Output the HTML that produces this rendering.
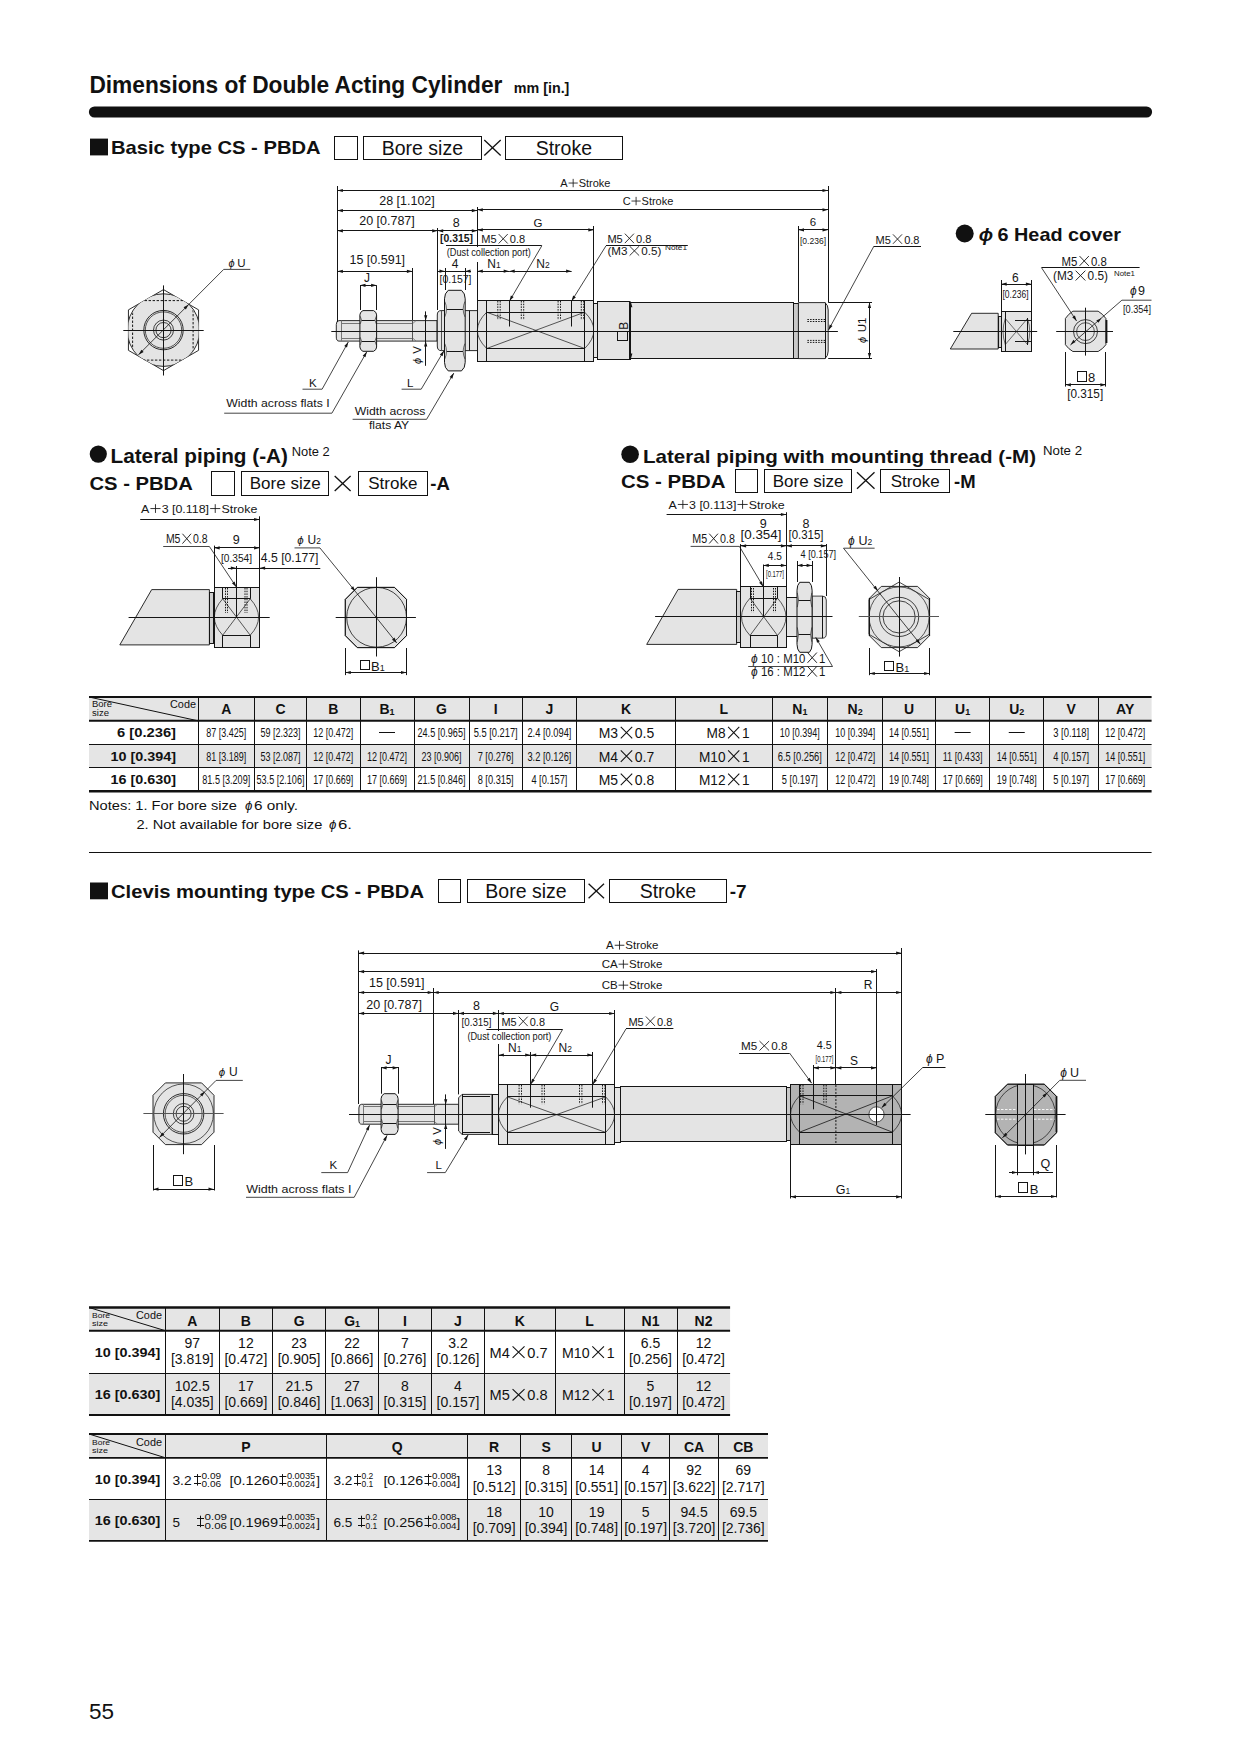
<!DOCTYPE html>
<html><head><meta charset="utf-8"><title>Dimensions of Double Acting Cylinder</title>
<style>
html,body{margin:0;padding:0;background:#fff;}
body{width:1240px;height:1754px;overflow:hidden;position:relative;font-family:"Liberation Sans",sans-serif;}
svg{position:absolute;left:0;top:0;}
svg text{font-family:"Liberation Sans",sans-serif;}
</style></head><body>
<svg width="1240" height="1754" viewBox="0 0 1240 1754">
<text x="89.4" y="92.8" font-size="24" font-weight="bold" textLength="413.00" lengthAdjust="spacingAndGlyphs" fill="#111111">Dimensions of Double Acting Cylinder</text>
<text x="513.7" y="92.6" font-size="14" font-weight="bold" textLength="55.70" lengthAdjust="spacingAndGlyphs" fill="#111111">mm [in.]</text>
<path d="M94.5,112 L1146.5,112" fill="none" stroke="#111111" stroke-width="11.2" stroke-linecap="round"/>
<rect x="90" y="138.6" width="18" height="16.8" fill="#111111" stroke="none" stroke-width="1"/>
<text x="111" y="154.3" font-size="19" font-weight="bold" textLength="209.60" lengthAdjust="spacingAndGlyphs" fill="#111111">Basic type CS - PBDA</text>
<rect x="334.5" y="136.5" width="23.0" height="23.0" fill="none" stroke="#111111" stroke-width="1"/>
<rect x="363.5" y="136.5" width="118.0" height="23.0" fill="none" stroke="#111111" stroke-width="1"/>
<text x="422.35" y="154.6" font-size="19.5" text-anchor="middle" fill="#111111">Bore size</text>
<line x1="484.3" y1="140.01000000000002" x2="500.7" y2="155.59" stroke="#111111" stroke-width="1.3"/>
<line x1="484.3" y1="155.59" x2="500.7" y2="140.01000000000002" stroke="#111111" stroke-width="1.3"/>
<rect x="505.5" y="136.5" width="117.0" height="23.0" fill="none" stroke="#111111" stroke-width="1"/>
<text x="563.85" y="154.6" font-size="19.5" text-anchor="middle" fill="#111111">Stroke</text>
<rect x="90" y="882.5" width="18" height="16.8" fill="#111111" stroke="none" stroke-width="1"/>
<text x="111" y="898.2" font-size="19" font-weight="bold" textLength="313.00" lengthAdjust="spacingAndGlyphs" fill="#111111">Clevis mounting type CS - PBDA</text>
<rect x="438.5" y="879.5" width="22.0" height="23.0" fill="none" stroke="#111111" stroke-width="1"/>
<rect x="467.5" y="879.5" width="117.0" height="23.0" fill="none" stroke="#111111" stroke-width="1"/>
<text x="525.95" y="897.6" font-size="19.5" text-anchor="middle" fill="#111111">Bore size</text>
<line x1="588.5999999999999" y1="883.6850000000001" x2="604.0" y2="898.3149999999999" stroke="#111111" stroke-width="1.3"/>
<line x1="588.5999999999999" y1="898.3149999999999" x2="604.0" y2="883.6850000000001" stroke="#111111" stroke-width="1.3"/>
<rect x="609.5" y="879.5" width="117.0" height="23.0" fill="none" stroke="#111111" stroke-width="1"/>
<text x="667.85" y="897.6" font-size="19.5" text-anchor="middle" fill="#111111">Stroke</text>
<text x="729.8" y="897.8" font-size="19" font-weight="bold" fill="#111111">-7</text>
<circle cx="98.3" cy="454.1" r="8.6" fill="#111111"/>
<text x="110.5" y="462.5" font-size="19.5" font-weight="bold" textLength="177.50" lengthAdjust="spacingAndGlyphs" fill="#111111">Lateral piping (-A)</text>
<text x="291.8" y="455.8" font-size="12" textLength="38.00" lengthAdjust="spacingAndGlyphs" fill="#111111">Note 2</text>
<text x="89.5" y="489.5" font-size="18.5" font-weight="bold" textLength="103.30" lengthAdjust="spacingAndGlyphs" fill="#111111">CS - PBDA</text>
<rect x="211.5" y="471.5" width="23.0" height="24.0" fill="none" stroke="#111111" stroke-width="1"/>
<rect x="241.5" y="471.5" width="87.0" height="24.0" fill="none" stroke="#111111" stroke-width="1"/>
<text x="285.2" y="488.8" font-size="17" text-anchor="middle" fill="#111111">Bore size</text>
<line x1="334.69999999999993" y1="475.9475" x2="350.6" y2="491.0525" stroke="#111111" stroke-width="1.3"/>
<line x1="334.69999999999993" y1="491.0525" x2="350.6" y2="475.9475" stroke="#111111" stroke-width="1.3"/>
<rect x="358.5" y="471.5" width="69.0" height="24.0" fill="none" stroke="#111111" stroke-width="1"/>
<text x="392.79999999999995" y="488.8" font-size="17" text-anchor="middle" fill="#111111">Stroke</text>
<text x="430.3" y="489.5" font-size="18.5" font-weight="bold" fill="#111111">-A</text>
<circle cx="630.1" cy="454.3" r="8.8" fill="#111111"/>
<text x="643" y="462.5" font-size="19" font-weight="bold" textLength="393.00" lengthAdjust="spacingAndGlyphs" fill="#111111">Lateral piping with mounting thread (-M)</text>
<text x="1043" y="455.3" font-size="12" textLength="39.00" lengthAdjust="spacingAndGlyphs" fill="#111111">Note 2</text>
<text x="621" y="487.5" font-size="18.5" font-weight="bold" textLength="104.50" lengthAdjust="spacingAndGlyphs" fill="#111111">CS - PBDA</text>
<rect x="735.5" y="469.5" width="22.0" height="23.0" fill="none" stroke="#111111" stroke-width="1"/>
<rect x="764.5" y="469.5" width="87.0" height="23.0" fill="none" stroke="#111111" stroke-width="1"/>
<text x="808.1500000000001" y="486.5" font-size="17" text-anchor="middle" fill="#111111">Bore size</text>
<line x1="857.0" y1="472.1875" x2="874.5" y2="488.8125" stroke="#111111" stroke-width="1.3"/>
<line x1="857.0" y1="488.8125" x2="874.5" y2="472.1875" stroke="#111111" stroke-width="1.3"/>
<rect x="880.5" y="469.5" width="69.0" height="23.0" fill="none" stroke="#111111" stroke-width="1"/>
<text x="915.2" y="486.5" font-size="17" text-anchor="middle" fill="#111111">Stroke</text>
<text x="954" y="487.5" font-size="18.5" font-weight="bold" fill="#111111">-M</text>
<circle cx="964.7" cy="233.5" r="9" fill="#111111"/>
<text x="978.7" y="240.8" font-size="19" font-weight="bold" fill="#111111" font-style="italic">ϕ</text>
<text x="997.5" y="240.6" font-size="19" font-weight="bold" textLength="123.50" lengthAdjust="spacingAndGlyphs" fill="#111111">6 Head cover</text>
<rect x="89" y="697" width="1062.6" height="23.799999999999955" fill="#e5e5e5" stroke="none" stroke-width="1"/>
<rect x="89" y="744.2" width="1062.6" height="23.299999999999955" fill="#e5e5e5" stroke="none" stroke-width="1"/>
<line x1="198.5" y1="697" x2="198.5" y2="791.3" stroke="#111111" stroke-width="1"/>
<line x1="254.5" y1="697" x2="254.5" y2="791.3" stroke="#111111" stroke-width="1"/>
<line x1="306.5" y1="697" x2="306.5" y2="791.3" stroke="#111111" stroke-width="1"/>
<line x1="360.5" y1="697" x2="360.5" y2="791.3" stroke="#111111" stroke-width="1"/>
<line x1="414.5" y1="697" x2="414.5" y2="791.3" stroke="#111111" stroke-width="1"/>
<line x1="469.5" y1="697" x2="469.5" y2="791.3" stroke="#111111" stroke-width="1"/>
<line x1="522.5" y1="697" x2="522.5" y2="791.3" stroke="#111111" stroke-width="1"/>
<line x1="576.5" y1="697" x2="576.5" y2="791.3" stroke="#111111" stroke-width="1"/>
<line x1="675.5" y1="697" x2="675.5" y2="791.3" stroke="#111111" stroke-width="1"/>
<line x1="772.5" y1="697" x2="772.5" y2="791.3" stroke="#111111" stroke-width="1"/>
<line x1="827.5" y1="697" x2="827.5" y2="791.3" stroke="#111111" stroke-width="1"/>
<line x1="882.5" y1="697" x2="882.5" y2="791.3" stroke="#111111" stroke-width="1"/>
<line x1="935.5" y1="697" x2="935.5" y2="791.3" stroke="#111111" stroke-width="1"/>
<line x1="989.5" y1="697" x2="989.5" y2="791.3" stroke="#111111" stroke-width="1"/>
<line x1="1043.5" y1="697" x2="1043.5" y2="791.3" stroke="#111111" stroke-width="1"/>
<line x1="1098.5" y1="697" x2="1098.5" y2="791.3" stroke="#111111" stroke-width="1"/>
<line x1="89" y1="697" x2="1151.6" y2="697" stroke="#111111" stroke-width="2"/>
<line x1="89" y1="720.8" x2="1151.6" y2="720.8" stroke="#111111" stroke-width="2"/>
<line x1="89" y1="744.5" x2="1151.6" y2="744.5" stroke="#111111" stroke-width="1"/>
<line x1="89" y1="767.5" x2="1151.6" y2="767.5" stroke="#111111" stroke-width="1"/>
<line x1="89" y1="791.3" x2="1151.6" y2="791.3" stroke="#111111" stroke-width="2.5"/>
<line x1="89" y1="697" x2="198" y2="720.8" stroke="#111111" stroke-width="1"/>
<text x="92" y="707" font-size="8.5" textLength="20.00" lengthAdjust="spacingAndGlyphs" fill="#111111">Bore</text>
<text x="92" y="716" font-size="8.5" textLength="17.00" lengthAdjust="spacingAndGlyphs" fill="#111111">size</text>
<text x="196" y="708" font-size="11" text-anchor="end" textLength="26.00" lengthAdjust="spacingAndGlyphs" fill="#111111">Code</text>
<text x="226.25" y="714" font-size="14" font-weight="bold" text-anchor="middle" fill="#111111">A</text>
<text x="280.5" y="714" font-size="14" font-weight="bold" text-anchor="middle" fill="#111111">C</text>
<text x="333.25" y="714" font-size="14" font-weight="bold" text-anchor="middle" fill="#111111">B</text>
<text x="387.0" y="714" font-size="14" font-weight="bold" text-anchor="middle" fill="#111111">B<tspan font-size="9" dy="1">1</tspan></text>
<text x="441.5" y="714" font-size="14" font-weight="bold" text-anchor="middle" fill="#111111">G</text>
<text x="495.65" y="714" font-size="14" font-weight="bold" text-anchor="middle" fill="#111111">I</text>
<text x="549.4" y="714" font-size="14" font-weight="bold" text-anchor="middle" fill="#111111">J</text>
<text x="626.0" y="714" font-size="14" font-weight="bold" text-anchor="middle" fill="#111111">K</text>
<text x="723.75" y="714" font-size="14" font-weight="bold" text-anchor="middle" fill="#111111">L</text>
<text x="799.85" y="714" font-size="14" font-weight="bold" text-anchor="middle" fill="#111111">N<tspan font-size="9" dy="1">1</tspan></text>
<text x="855.1500000000001" y="714" font-size="14" font-weight="bold" text-anchor="middle" fill="#111111">N<tspan font-size="9" dy="1">2</tspan></text>
<text x="909.05" y="714" font-size="14" font-weight="bold" text-anchor="middle" fill="#111111">U</text>
<text x="962.65" y="714" font-size="14" font-weight="bold" text-anchor="middle" fill="#111111">U<tspan font-size="9" dy="1">1</tspan></text>
<text x="1016.75" y="714" font-size="14" font-weight="bold" text-anchor="middle" fill="#111111">U<tspan font-size="9" dy="1">2</tspan></text>
<text x="1071.2" y="714" font-size="14" font-weight="bold" text-anchor="middle" fill="#111111">V</text>
<text x="1125.15" y="714" font-size="14" font-weight="bold" text-anchor="middle" fill="#111111">AY</text>
<text x="176" y="737.3999999999999" font-size="13.5" font-weight="bold" text-anchor="end" textLength="59.00" lengthAdjust="spacingAndGlyphs" fill="#111111">6 [0.236]</text>
<text x="226.25" y="737.3999999999999" font-size="12.5" text-anchor="middle" textLength="40.00" lengthAdjust="spacingAndGlyphs" fill="#111111">87 [3.425]</text>
<text x="280.5" y="737.3999999999999" font-size="12.5" text-anchor="middle" textLength="40.00" lengthAdjust="spacingAndGlyphs" fill="#111111">59 [2.323]</text>
<text x="333.25" y="737.3999999999999" font-size="12.5" text-anchor="middle" textLength="40.00" lengthAdjust="spacingAndGlyphs" fill="#111111">12 [0.472]</text>
<line x1="379.0" y1="732.5" x2="395.0" y2="732.5" stroke="#111111" stroke-width="1"/>
<text x="441.5" y="737.3999999999999" font-size="12.5" text-anchor="middle" textLength="48.00" lengthAdjust="spacingAndGlyphs" fill="#111111">24.5 [0.965]</text>
<text x="495.65" y="737.3999999999999" font-size="12.5" text-anchor="middle" textLength="44.00" lengthAdjust="spacingAndGlyphs" fill="#111111">5.5 [0.217]</text>
<text x="549.4" y="737.3999999999999" font-size="12.5" text-anchor="middle" textLength="44.00" lengthAdjust="spacingAndGlyphs" fill="#111111">2.4 [0.094]</text>
<text x="598.75" y="738.0999999999999" font-size="14" textLength="19.37" lengthAdjust="spacingAndGlyphs" fill="#111111">M3</text>
<path d="M620.77,726.92 L632.21,738.40 M620.77,738.40 L632.21,726.92" stroke="#111111" stroke-width="1.05" fill="none"/>
<text x="634.8622673368412" y="738.0999999999999" font-size="14" textLength="19.39" lengthAdjust="spacingAndGlyphs" fill="#111111">0.5</text>
<text x="706.5" y="738.0999999999999" font-size="14" textLength="18.99" lengthAdjust="spacingAndGlyphs" fill="#111111">M8</text>
<path d="M728.09,726.92 L739.30,738.40 M728.09,738.40 L739.30,726.92" stroke="#111111" stroke-width="1.05" fill="none"/>
<text x="741.8971881365195" y="738.0999999999999" font-size="14" textLength="7.60" lengthAdjust="spacingAndGlyphs" fill="#111111">1</text>
<text x="799.85" y="737.3999999999999" font-size="12.5" text-anchor="middle" textLength="40.00" lengthAdjust="spacingAndGlyphs" fill="#111111">10 [0.394]</text>
<text x="855.1500000000001" y="737.3999999999999" font-size="12.5" text-anchor="middle" textLength="40.00" lengthAdjust="spacingAndGlyphs" fill="#111111">10 [0.394]</text>
<text x="909.05" y="737.3999999999999" font-size="12.5" text-anchor="middle" textLength="40.00" lengthAdjust="spacingAndGlyphs" fill="#111111">14 [0.551]</text>
<line x1="954.65" y1="732.5" x2="970.65" y2="732.5" stroke="#111111" stroke-width="1"/>
<line x1="1008.75" y1="732.5" x2="1024.75" y2="732.5" stroke="#111111" stroke-width="1"/>
<text x="1071.2" y="737.3999999999999" font-size="12.5" text-anchor="middle" textLength="36.00" lengthAdjust="spacingAndGlyphs" fill="#111111">3 [0.118]</text>
<text x="1125.15" y="737.3999999999999" font-size="12.5" text-anchor="middle" textLength="40.00" lengthAdjust="spacingAndGlyphs" fill="#111111">12 [0.472]</text>
<text x="176" y="760.8" font-size="13.5" font-weight="bold" text-anchor="end" textLength="65.50" lengthAdjust="spacingAndGlyphs" fill="#111111">10 [0.394]</text>
<text x="226.25" y="760.8" font-size="12.5" text-anchor="middle" textLength="40.00" lengthAdjust="spacingAndGlyphs" fill="#111111">81 [3.189]</text>
<text x="280.5" y="760.8" font-size="12.5" text-anchor="middle" textLength="40.00" lengthAdjust="spacingAndGlyphs" fill="#111111">53 [2.087]</text>
<text x="333.25" y="760.8" font-size="12.5" text-anchor="middle" textLength="40.00" lengthAdjust="spacingAndGlyphs" fill="#111111">12 [0.472]</text>
<text x="387.0" y="760.8" font-size="12.5" text-anchor="middle" textLength="40.00" lengthAdjust="spacingAndGlyphs" fill="#111111">12 [0.472]</text>
<text x="441.5" y="760.8" font-size="12.5" text-anchor="middle" textLength="40.00" lengthAdjust="spacingAndGlyphs" fill="#111111">23 [0.906]</text>
<text x="495.65" y="760.8" font-size="12.5" text-anchor="middle" textLength="36.00" lengthAdjust="spacingAndGlyphs" fill="#111111">7 [0.276]</text>
<text x="549.4" y="760.8" font-size="12.5" text-anchor="middle" textLength="44.00" lengthAdjust="spacingAndGlyphs" fill="#111111">3.2 [0.126]</text>
<text x="598.75" y="761.5" font-size="14" textLength="19.37" lengthAdjust="spacingAndGlyphs" fill="#111111">M4</text>
<path d="M620.77,750.32 L632.21,761.80 M620.77,761.80 L632.21,750.32" stroke="#111111" stroke-width="1.05" fill="none"/>
<text x="634.8622673368412" y="761.5" font-size="14" textLength="19.39" lengthAdjust="spacingAndGlyphs" fill="#111111">0.7</text>
<text x="699.0" y="761.5" font-size="14" textLength="26.54" lengthAdjust="spacingAndGlyphs" fill="#111111">M10</text>
<path d="M728.13,750.32 L739.32,761.80 M728.13,761.80 L739.32,750.32" stroke="#111111" stroke-width="1.05" fill="none"/>
<text x="741.9126350894968" y="761.5" font-size="14" textLength="7.59" lengthAdjust="spacingAndGlyphs" fill="#111111">1</text>
<text x="799.85" y="760.8" font-size="12.5" text-anchor="middle" textLength="44.00" lengthAdjust="spacingAndGlyphs" fill="#111111">6.5 [0.256]</text>
<text x="855.1500000000001" y="760.8" font-size="12.5" text-anchor="middle" textLength="40.00" lengthAdjust="spacingAndGlyphs" fill="#111111">12 [0.472]</text>
<text x="909.05" y="760.8" font-size="12.5" text-anchor="middle" textLength="40.00" lengthAdjust="spacingAndGlyphs" fill="#111111">14 [0.551]</text>
<text x="962.65" y="760.8" font-size="12.5" text-anchor="middle" textLength="40.00" lengthAdjust="spacingAndGlyphs" fill="#111111">11 [0.433]</text>
<text x="1016.75" y="760.8" font-size="12.5" text-anchor="middle" textLength="40.00" lengthAdjust="spacingAndGlyphs" fill="#111111">14 [0.551]</text>
<text x="1071.2" y="760.8" font-size="12.5" text-anchor="middle" textLength="36.00" lengthAdjust="spacingAndGlyphs" fill="#111111">4 [0.157]</text>
<text x="1125.15" y="760.8" font-size="12.5" text-anchor="middle" textLength="40.00" lengthAdjust="spacingAndGlyphs" fill="#111111">14 [0.551]</text>
<text x="176" y="784.0999999999999" font-size="13.5" font-weight="bold" text-anchor="end" textLength="65.50" lengthAdjust="spacingAndGlyphs" fill="#111111">16 [0.630]</text>
<text x="226.25" y="784.0999999999999" font-size="12.5" text-anchor="middle" textLength="48.00" lengthAdjust="spacingAndGlyphs" fill="#111111">81.5 [3.209]</text>
<text x="280.5" y="784.0999999999999" font-size="12.5" text-anchor="middle" textLength="48.00" lengthAdjust="spacingAndGlyphs" fill="#111111">53.5 [2.106]</text>
<text x="333.25" y="784.0999999999999" font-size="12.5" text-anchor="middle" textLength="40.00" lengthAdjust="spacingAndGlyphs" fill="#111111">17 [0.669]</text>
<text x="387.0" y="784.0999999999999" font-size="12.5" text-anchor="middle" textLength="40.00" lengthAdjust="spacingAndGlyphs" fill="#111111">17 [0.669]</text>
<text x="441.5" y="784.0999999999999" font-size="12.5" text-anchor="middle" textLength="48.00" lengthAdjust="spacingAndGlyphs" fill="#111111">21.5 [0.846]</text>
<text x="495.65" y="784.0999999999999" font-size="12.5" text-anchor="middle" textLength="36.00" lengthAdjust="spacingAndGlyphs" fill="#111111">8 [0.315]</text>
<text x="549.4" y="784.0999999999999" font-size="12.5" text-anchor="middle" textLength="36.00" lengthAdjust="spacingAndGlyphs" fill="#111111">4 [0.157]</text>
<text x="598.75" y="784.8" font-size="14" textLength="19.37" lengthAdjust="spacingAndGlyphs" fill="#111111">M5</text>
<path d="M620.77,773.62 L632.21,785.10 M620.77,785.10 L632.21,773.62" stroke="#111111" stroke-width="1.05" fill="none"/>
<text x="634.8622673368412" y="784.8" font-size="14" textLength="19.39" lengthAdjust="spacingAndGlyphs" fill="#111111">0.8</text>
<text x="699.0" y="784.8" font-size="14" textLength="26.54" lengthAdjust="spacingAndGlyphs" fill="#111111">M12</text>
<path d="M728.13,773.62 L739.32,785.10 M728.13,785.10 L739.32,773.62" stroke="#111111" stroke-width="1.05" fill="none"/>
<text x="741.9126350894968" y="784.8" font-size="14" textLength="7.59" lengthAdjust="spacingAndGlyphs" fill="#111111">1</text>
<text x="799.85" y="784.0999999999999" font-size="12.5" text-anchor="middle" textLength="36.00" lengthAdjust="spacingAndGlyphs" fill="#111111">5 [0.197]</text>
<text x="855.1500000000001" y="784.0999999999999" font-size="12.5" text-anchor="middle" textLength="40.00" lengthAdjust="spacingAndGlyphs" fill="#111111">12 [0.472]</text>
<text x="909.05" y="784.0999999999999" font-size="12.5" text-anchor="middle" textLength="40.00" lengthAdjust="spacingAndGlyphs" fill="#111111">19 [0.748]</text>
<text x="962.65" y="784.0999999999999" font-size="12.5" text-anchor="middle" textLength="40.00" lengthAdjust="spacingAndGlyphs" fill="#111111">17 [0.669]</text>
<text x="1016.75" y="784.0999999999999" font-size="12.5" text-anchor="middle" textLength="40.00" lengthAdjust="spacingAndGlyphs" fill="#111111">19 [0.748]</text>
<text x="1071.2" y="784.0999999999999" font-size="12.5" text-anchor="middle" textLength="36.00" lengthAdjust="spacingAndGlyphs" fill="#111111">5 [0.197]</text>
<text x="1125.15" y="784.0999999999999" font-size="12.5" text-anchor="middle" textLength="40.00" lengthAdjust="spacingAndGlyphs" fill="#111111">17 [0.669]</text>
<text x="89" y="810" font-size="13.3" textLength="148.00" lengthAdjust="spacingAndGlyphs" fill="#111111">Notes: 1. For bore size</text>
<text x="245" y="810" font-size="13.3" fill="#111111" font-style="italic">ϕ</text>
<text x="254" y="810" font-size="13.3" textLength="44.00" lengthAdjust="spacingAndGlyphs" fill="#111111">6 only.</text>
<text x="136.4" y="828.5" font-size="13.3" textLength="186.00" lengthAdjust="spacingAndGlyphs" fill="#111111">2. Not available for bore size</text>
<text x="329" y="828.5" font-size="13.3" fill="#111111" font-style="italic">ϕ</text>
<text x="338" y="828.5" font-size="13.3" textLength="14.00" lengthAdjust="spacingAndGlyphs" fill="#111111">6.</text>
<line x1="89" y1="852.5" x2="1151.6" y2="852.5" stroke="#111111" stroke-width="1"/>
<rect x="89" y="1307.5" width="641.1" height="23.200000000000045" fill="#e5e5e5" stroke="none" stroke-width="1"/>
<rect x="89" y="1373.4" width="641.1" height="41.59999999999991" fill="#e5e5e5" stroke="none" stroke-width="1"/>
<line x1="165.5" y1="1307.5" x2="165.5" y2="1415" stroke="#111111" stroke-width="1"/>
<line x1="219.5" y1="1307.5" x2="219.5" y2="1415" stroke="#111111" stroke-width="1"/>
<line x1="272.5" y1="1307.5" x2="272.5" y2="1415" stroke="#111111" stroke-width="1"/>
<line x1="325.5" y1="1307.5" x2="325.5" y2="1415" stroke="#111111" stroke-width="1"/>
<line x1="378.5" y1="1307.5" x2="378.5" y2="1415" stroke="#111111" stroke-width="1"/>
<line x1="431.5" y1="1307.5" x2="431.5" y2="1415" stroke="#111111" stroke-width="1"/>
<line x1="484.5" y1="1307.5" x2="484.5" y2="1415" stroke="#111111" stroke-width="1"/>
<line x1="555.5" y1="1307.5" x2="555.5" y2="1415" stroke="#111111" stroke-width="1"/>
<line x1="624.5" y1="1307.5" x2="624.5" y2="1415" stroke="#111111" stroke-width="1"/>
<line x1="677.5" y1="1307.5" x2="677.5" y2="1415" stroke="#111111" stroke-width="1"/>
<line x1="89" y1="1307.5" x2="730.1" y2="1307.5" stroke="#111111" stroke-width="2.5"/>
<line x1="89" y1="1330.7" x2="730.1" y2="1330.7" stroke="#111111" stroke-width="2"/>
<line x1="89" y1="1373.5" x2="730.1" y2="1373.5" stroke="#111111" stroke-width="1"/>
<line x1="89" y1="1415" x2="730.1" y2="1415" stroke="#111111" stroke-width="1.8"/>
<line x1="89" y1="1307.5" x2="165.3" y2="1330.7" stroke="#111111" stroke-width="1"/>
<text x="92" y="1318" font-size="8" textLength="18.00" lengthAdjust="spacingAndGlyphs" fill="#111111">Bore</text>
<text x="92" y="1326" font-size="8" textLength="16.00" lengthAdjust="spacingAndGlyphs" fill="#111111">size</text>
<text x="162" y="1319" font-size="11.5" text-anchor="end" textLength="26.00" lengthAdjust="spacingAndGlyphs" fill="#111111">Code</text>
<text x="192.3" y="1325.5" font-size="14" font-weight="bold" text-anchor="middle" fill="#111111">A</text>
<text x="245.9" y="1325.5" font-size="14" font-weight="bold" text-anchor="middle" fill="#111111">B</text>
<text x="299.1" y="1325.5" font-size="14" font-weight="bold" text-anchor="middle" fill="#111111">G</text>
<text x="352.1" y="1325.5" font-size="14" font-weight="bold" text-anchor="middle" fill="#111111">G<tspan font-size="9" dy="1">1</tspan></text>
<text x="405.0" y="1325.5" font-size="14" font-weight="bold" text-anchor="middle" fill="#111111">I</text>
<text x="458.0" y="1325.5" font-size="14" font-weight="bold" text-anchor="middle" fill="#111111">J</text>
<text x="519.75" y="1325.5" font-size="14" font-weight="bold" text-anchor="middle" fill="#111111">K</text>
<text x="589.5" y="1325.5" font-size="14" font-weight="bold" text-anchor="middle" fill="#111111">L</text>
<text x="650.5" y="1325.5" font-size="14" font-weight="bold" text-anchor="middle" fill="#111111">N1</text>
<text x="703.55" y="1325.5" font-size="14" font-weight="bold" text-anchor="middle" fill="#111111">N2</text>
<text x="127.5" y="1356.7" font-size="13.5" font-weight="bold" text-anchor="middle" textLength="65.50" lengthAdjust="spacingAndGlyphs" fill="#111111">10 [0.394]</text>
<text x="192.3" y="1348.0" font-size="14" text-anchor="middle" fill="#111111">97</text>
<text x="192.3" y="1364.4" font-size="14" text-anchor="middle" fill="#111111">[3.819]</text>
<text x="245.9" y="1348.0" font-size="14" text-anchor="middle" fill="#111111">12</text>
<text x="245.9" y="1364.4" font-size="14" text-anchor="middle" fill="#111111">[0.472]</text>
<text x="299.1" y="1348.0" font-size="14" text-anchor="middle" fill="#111111">23</text>
<text x="299.1" y="1364.4" font-size="14" text-anchor="middle" fill="#111111">[0.905]</text>
<text x="352.1" y="1348.0" font-size="14" text-anchor="middle" fill="#111111">22</text>
<text x="352.1" y="1364.4" font-size="14" text-anchor="middle" fill="#111111">[0.866]</text>
<text x="405.0" y="1348.0" font-size="14" text-anchor="middle" fill="#111111">7</text>
<text x="405.0" y="1364.4" font-size="14" text-anchor="middle" fill="#111111">[0.276]</text>
<text x="458.0" y="1348.0" font-size="14" text-anchor="middle" fill="#111111">3.2</text>
<text x="458.0" y="1364.4" font-size="14" text-anchor="middle" fill="#111111">[0.126]</text>
<text x="489.54999999999995" y="1357.5" font-size="14" textLength="20.25" lengthAdjust="spacingAndGlyphs" fill="#111111">M4</text>
<path d="M512.57,1346.32 L524.52,1357.80 M512.57,1357.80 L524.52,1346.32" stroke="#111111" stroke-width="1.05" fill="none"/>
<text x="527.2889460457079" y="1357.5" font-size="14" textLength="20.26" lengthAdjust="spacingAndGlyphs" fill="#111111">0.7</text>
<text x="562.05" y="1357.5" font-size="14" textLength="27.59" lengthAdjust="spacingAndGlyphs" fill="#111111">M10</text>
<path d="M592.34,1346.32 L603.97,1357.80 M592.34,1357.80 L603.97,1346.32" stroke="#111111" stroke-width="1.05" fill="none"/>
<text x="606.6621453900709" y="1357.5" font-size="14" textLength="7.89" lengthAdjust="spacingAndGlyphs" fill="#111111">1</text>
<text x="650.5" y="1348.0" font-size="14" text-anchor="middle" fill="#111111">6.5</text>
<text x="650.5" y="1364.4" font-size="14" text-anchor="middle" fill="#111111">[0.256]</text>
<text x="703.55" y="1348.0" font-size="14" text-anchor="middle" fill="#111111">12</text>
<text x="703.55" y="1364.4" font-size="14" text-anchor="middle" fill="#111111">[0.472]</text>
<text x="127.5" y="1399.4" font-size="13.5" font-weight="bold" text-anchor="middle" textLength="65.50" lengthAdjust="spacingAndGlyphs" fill="#111111">16 [0.630]</text>
<text x="192.3" y="1390.7" font-size="14" text-anchor="middle" fill="#111111">102.5</text>
<text x="192.3" y="1407.1000000000001" font-size="14" text-anchor="middle" fill="#111111">[4.035]</text>
<text x="245.9" y="1390.7" font-size="14" text-anchor="middle" fill="#111111">17</text>
<text x="245.9" y="1407.1000000000001" font-size="14" text-anchor="middle" fill="#111111">[0.669]</text>
<text x="299.1" y="1390.7" font-size="14" text-anchor="middle" fill="#111111">21.5</text>
<text x="299.1" y="1407.1000000000001" font-size="14" text-anchor="middle" fill="#111111">[0.846]</text>
<text x="352.1" y="1390.7" font-size="14" text-anchor="middle" fill="#111111">27</text>
<text x="352.1" y="1407.1000000000001" font-size="14" text-anchor="middle" fill="#111111">[1.063]</text>
<text x="405.0" y="1390.7" font-size="14" text-anchor="middle" fill="#111111">8</text>
<text x="405.0" y="1407.1000000000001" font-size="14" text-anchor="middle" fill="#111111">[0.315]</text>
<text x="458.0" y="1390.7" font-size="14" text-anchor="middle" fill="#111111">4</text>
<text x="458.0" y="1407.1000000000001" font-size="14" text-anchor="middle" fill="#111111">[0.157]</text>
<text x="489.54999999999995" y="1400.2" font-size="14" textLength="20.25" lengthAdjust="spacingAndGlyphs" fill="#111111">M5</text>
<path d="M512.57,1389.02 L524.52,1400.50 M512.57,1400.50 L524.52,1389.02" stroke="#111111" stroke-width="1.05" fill="none"/>
<text x="527.2889460457079" y="1400.2" font-size="14" textLength="20.26" lengthAdjust="spacingAndGlyphs" fill="#111111">0.8</text>
<text x="562.05" y="1400.2" font-size="14" textLength="27.59" lengthAdjust="spacingAndGlyphs" fill="#111111">M12</text>
<path d="M592.34,1389.02 L603.97,1400.50 M592.34,1400.50 L603.97,1389.02" stroke="#111111" stroke-width="1.05" fill="none"/>
<text x="606.6621453900709" y="1400.2" font-size="14" textLength="7.89" lengthAdjust="spacingAndGlyphs" fill="#111111">1</text>
<text x="650.5" y="1390.7" font-size="14" text-anchor="middle" fill="#111111">5</text>
<text x="650.5" y="1407.1000000000001" font-size="14" text-anchor="middle" fill="#111111">[0.197]</text>
<text x="703.55" y="1390.7" font-size="14" text-anchor="middle" fill="#111111">12</text>
<text x="703.55" y="1407.1000000000001" font-size="14" text-anchor="middle" fill="#111111">[0.472]</text>
<rect x="89" y="1434" width="679" height="23.799999999999955" fill="#e5e5e5" stroke="none" stroke-width="1"/>
<rect x="89" y="1499.4" width="679" height="41.399999999999864" fill="#e5e5e5" stroke="none" stroke-width="1"/>
<line x1="165.5" y1="1434" x2="165.5" y2="1540.8" stroke="#111111" stroke-width="1"/>
<line x1="326.5" y1="1434" x2="326.5" y2="1540.8" stroke="#111111" stroke-width="1"/>
<line x1="467.5" y1="1434" x2="467.5" y2="1540.8" stroke="#111111" stroke-width="1"/>
<line x1="520.5" y1="1434" x2="520.5" y2="1540.8" stroke="#111111" stroke-width="1"/>
<line x1="571.5" y1="1434" x2="571.5" y2="1540.8" stroke="#111111" stroke-width="1"/>
<line x1="621.5" y1="1434" x2="621.5" y2="1540.8" stroke="#111111" stroke-width="1"/>
<line x1="669.5" y1="1434" x2="669.5" y2="1540.8" stroke="#111111" stroke-width="1"/>
<line x1="718.5" y1="1434" x2="718.5" y2="1540.8" stroke="#111111" stroke-width="1"/>
<line x1="89" y1="1434" x2="768" y2="1434" stroke="#111111" stroke-width="2"/>
<line x1="89" y1="1457.8" x2="768" y2="1457.8" stroke="#111111" stroke-width="1.8"/>
<line x1="89" y1="1499.5" x2="768" y2="1499.5" stroke="#111111" stroke-width="1"/>
<line x1="89" y1="1540.8" x2="768" y2="1540.8" stroke="#111111" stroke-width="1.8"/>
<line x1="89" y1="1434" x2="165.5" y2="1457.8" stroke="#111111" stroke-width="1"/>
<text x="92" y="1445" font-size="8" textLength="18.00" lengthAdjust="spacingAndGlyphs" fill="#111111">Bore</text>
<text x="92" y="1453" font-size="8" textLength="16.00" lengthAdjust="spacingAndGlyphs" fill="#111111">size</text>
<text x="162" y="1446" font-size="11.5" text-anchor="end" textLength="26.00" lengthAdjust="spacingAndGlyphs" fill="#111111">Code</text>
<text x="246.0" y="1452" font-size="14" font-weight="bold" text-anchor="middle" fill="#111111">P</text>
<text x="397.1" y="1452" font-size="14" font-weight="bold" text-anchor="middle" fill="#111111">Q</text>
<text x="494.15" y="1452" font-size="14" font-weight="bold" text-anchor="middle" fill="#111111">R</text>
<text x="546.05" y="1452" font-size="14" font-weight="bold" text-anchor="middle" fill="#111111">S</text>
<text x="596.65" y="1452" font-size="14" font-weight="bold" text-anchor="middle" fill="#111111">U</text>
<text x="645.65" y="1452" font-size="14" font-weight="bold" text-anchor="middle" fill="#111111">V</text>
<text x="694.05" y="1452" font-size="14" font-weight="bold" text-anchor="middle" fill="#111111">CA</text>
<text x="743.3" y="1452" font-size="14" font-weight="bold" text-anchor="middle" fill="#111111">CB</text>
<text x="127.5" y="1483.8" font-size="13.5" font-weight="bold" text-anchor="middle" textLength="65.50" lengthAdjust="spacingAndGlyphs" fill="#111111">10 [0.394]</text>
<text x="494.15" y="1475.1" font-size="14" text-anchor="middle" fill="#111111">13</text>
<text x="494.15" y="1491.5" font-size="14" text-anchor="middle" fill="#111111">[0.512]</text>
<text x="546.05" y="1475.1" font-size="14" text-anchor="middle" fill="#111111">8</text>
<text x="546.05" y="1491.5" font-size="14" text-anchor="middle" fill="#111111">[0.315]</text>
<text x="596.65" y="1475.1" font-size="14" text-anchor="middle" fill="#111111">14</text>
<text x="596.65" y="1491.5" font-size="14" text-anchor="middle" fill="#111111">[0.551]</text>
<text x="645.65" y="1475.1" font-size="14" text-anchor="middle" fill="#111111">4</text>
<text x="645.65" y="1491.5" font-size="14" text-anchor="middle" fill="#111111">[0.157]</text>
<text x="694.05" y="1475.1" font-size="14" text-anchor="middle" fill="#111111">92</text>
<text x="694.05" y="1491.5" font-size="14" text-anchor="middle" fill="#111111">[3.622]</text>
<text x="743.3" y="1475.1" font-size="14" text-anchor="middle" fill="#111111">69</text>
<text x="743.3" y="1491.5" font-size="14" text-anchor="middle" fill="#111111">[2.717]</text>
<text x="127.5" y="1525.4" font-size="13.5" font-weight="bold" text-anchor="middle" textLength="65.50" lengthAdjust="spacingAndGlyphs" fill="#111111">16 [0.630]</text>
<text x="494.15" y="1516.7" font-size="14" text-anchor="middle" fill="#111111">18</text>
<text x="494.15" y="1533.1000000000001" font-size="14" text-anchor="middle" fill="#111111">[0.709]</text>
<text x="546.05" y="1516.7" font-size="14" text-anchor="middle" fill="#111111">10</text>
<text x="546.05" y="1533.1000000000001" font-size="14" text-anchor="middle" fill="#111111">[0.394]</text>
<text x="596.65" y="1516.7" font-size="14" text-anchor="middle" fill="#111111">19</text>
<text x="596.65" y="1533.1000000000001" font-size="14" text-anchor="middle" fill="#111111">[0.748]</text>
<text x="645.65" y="1516.7" font-size="14" text-anchor="middle" fill="#111111">5</text>
<text x="645.65" y="1533.1000000000001" font-size="14" text-anchor="middle" fill="#111111">[0.197]</text>
<text x="694.05" y="1516.7" font-size="14" text-anchor="middle" fill="#111111">94.5</text>
<text x="694.05" y="1533.1000000000001" font-size="14" text-anchor="middle" fill="#111111">[3.720]</text>
<text x="743.3" y="1516.7" font-size="14" text-anchor="middle" fill="#111111">69.5</text>
<text x="743.3" y="1533.1000000000001" font-size="14" text-anchor="middle" fill="#111111">[2.736]</text>
<text x="172.4" y="1485.1" font-size="13.5" textLength="19.20" lengthAdjust="spacingAndGlyphs" fill="#111111">3.2</text>
<line x1="197.5" y1="1474.1" x2="197.5" y2="1485.6" stroke="#111111" stroke-width="1"/>
<line x1="194" y1="1476.5" x2="201" y2="1476.5" stroke="#111111" stroke-width="1"/>
<line x1="194" y1="1483.5" x2="201" y2="1483.5" stroke="#111111" stroke-width="1"/>
<text x="201.5" y="1478.6" font-size="9" textLength="19.60" lengthAdjust="spacingAndGlyphs" fill="#111111">0.09</text>
<text x="201.5" y="1487.1" font-size="9" textLength="19.60" lengthAdjust="spacingAndGlyphs" fill="#111111">0.06</text>
<text x="229.4" y="1485.1" font-size="13.5" textLength="48.70" lengthAdjust="spacingAndGlyphs" fill="#111111">[0.1260</text>
<line x1="282.5" y1="1474.1" x2="282.5" y2="1485.6" stroke="#111111" stroke-width="1"/>
<line x1="279.4" y1="1476.5" x2="286.4" y2="1476.5" stroke="#111111" stroke-width="1"/>
<line x1="279.4" y1="1483.5" x2="286.4" y2="1483.5" stroke="#111111" stroke-width="1"/>
<text x="286.9" y="1478.6" font-size="9" textLength="28.30" lengthAdjust="spacingAndGlyphs" fill="#111111">0.0035</text>
<text x="286.9" y="1487.1" font-size="9" textLength="28.30" lengthAdjust="spacingAndGlyphs" fill="#111111">0.0024</text>
<text x="316.3" y="1485.1" font-size="13.5" fill="#111111">]</text>
<text x="333.5" y="1485.1" font-size="13.5" textLength="18.90" lengthAdjust="spacingAndGlyphs" fill="#111111">3.2</text>
<line x1="357.5" y1="1474.1" x2="357.5" y2="1485.6" stroke="#111111" stroke-width="1"/>
<line x1="354" y1="1476.5" x2="361" y2="1476.5" stroke="#111111" stroke-width="1"/>
<line x1="354" y1="1483.5" x2="361" y2="1483.5" stroke="#111111" stroke-width="1"/>
<text x="361.5" y="1478.6" font-size="9" textLength="11.80" lengthAdjust="spacingAndGlyphs" fill="#111111">0.2</text>
<text x="361.5" y="1487.1" font-size="9" textLength="11.80" lengthAdjust="spacingAndGlyphs" fill="#111111">0.1</text>
<text x="383.4" y="1485.1" font-size="13.5" textLength="39.80" lengthAdjust="spacingAndGlyphs" fill="#111111">[0.126</text>
<line x1="428.5" y1="1474.1" x2="428.5" y2="1485.6" stroke="#111111" stroke-width="1"/>
<line x1="424.5" y1="1476.5" x2="431.5" y2="1476.5" stroke="#111111" stroke-width="1"/>
<line x1="424.5" y1="1483.5" x2="431.5" y2="1483.5" stroke="#111111" stroke-width="1"/>
<text x="432.0" y="1478.6" font-size="9" textLength="24.60" lengthAdjust="spacingAndGlyphs" fill="#111111">0.008</text>
<text x="432.0" y="1487.1" font-size="9" textLength="24.60" lengthAdjust="spacingAndGlyphs" fill="#111111">0.004</text>
<text x="456.4" y="1485.1" font-size="13.5" fill="#111111">]</text>
<text x="172.4" y="1526.7" font-size="13.5" fill="#111111">5</text>
<line x1="200.5" y1="1515.7" x2="200.5" y2="1527.2" stroke="#111111" stroke-width="1"/>
<line x1="197" y1="1518.5" x2="204" y2="1518.5" stroke="#111111" stroke-width="1"/>
<line x1="197" y1="1525.5" x2="204" y2="1525.5" stroke="#111111" stroke-width="1"/>
<text x="204.5" y="1520.2" font-size="9" textLength="22.50" lengthAdjust="spacingAndGlyphs" fill="#111111">0.09</text>
<text x="204.5" y="1528.7" font-size="9" textLength="22.50" lengthAdjust="spacingAndGlyphs" fill="#111111">0.06</text>
<text x="229.4" y="1526.7" font-size="13.5" textLength="48.70" lengthAdjust="spacingAndGlyphs" fill="#111111">[0.1969</text>
<line x1="282.5" y1="1515.7" x2="282.5" y2="1527.2" stroke="#111111" stroke-width="1"/>
<line x1="279.4" y1="1518.5" x2="286.4" y2="1518.5" stroke="#111111" stroke-width="1"/>
<line x1="279.4" y1="1525.5" x2="286.4" y2="1525.5" stroke="#111111" stroke-width="1"/>
<text x="286.9" y="1520.2" font-size="9" textLength="28.30" lengthAdjust="spacingAndGlyphs" fill="#111111">0.0035</text>
<text x="286.9" y="1528.7" font-size="9" textLength="28.30" lengthAdjust="spacingAndGlyphs" fill="#111111">0.0024</text>
<text x="316.3" y="1526.7" font-size="13.5" fill="#111111">]</text>
<text x="333.5" y="1526.7" font-size="13.5" textLength="18.90" lengthAdjust="spacingAndGlyphs" fill="#111111">6.5</text>
<line x1="361.5" y1="1515.7" x2="361.5" y2="1527.2" stroke="#111111" stroke-width="1"/>
<line x1="358" y1="1518.5" x2="365" y2="1518.5" stroke="#111111" stroke-width="1"/>
<line x1="358" y1="1525.5" x2="365" y2="1525.5" stroke="#111111" stroke-width="1"/>
<text x="365.5" y="1520.2" font-size="9" textLength="11.80" lengthAdjust="spacingAndGlyphs" fill="#111111">0.2</text>
<text x="365.5" y="1528.7" font-size="9" textLength="11.80" lengthAdjust="spacingAndGlyphs" fill="#111111">0.1</text>
<text x="383.4" y="1526.7" font-size="13.5" textLength="39.80" lengthAdjust="spacingAndGlyphs" fill="#111111">[0.256</text>
<line x1="428.5" y1="1515.7" x2="428.5" y2="1527.2" stroke="#111111" stroke-width="1"/>
<line x1="424.5" y1="1518.5" x2="431.5" y2="1518.5" stroke="#111111" stroke-width="1"/>
<line x1="424.5" y1="1525.5" x2="431.5" y2="1525.5" stroke="#111111" stroke-width="1"/>
<text x="432.0" y="1520.2" font-size="9" textLength="24.60" lengthAdjust="spacingAndGlyphs" fill="#111111">0.008</text>
<text x="432.0" y="1528.7" font-size="9" textLength="24.60" lengthAdjust="spacingAndGlyphs" fill="#111111">0.004</text>
<text x="456.4" y="1526.7" font-size="13.5" fill="#111111">]</text>
<text x="89" y="1718.7" font-size="22.5" fill="#111111">55</text>
<polygon points="163.50,289.60 198.57,309.85 198.57,350.35 163.50,370.60 128.43,350.35 128.43,309.85" fill="#ffffff" stroke="#151515" stroke-width="0.9"/>
<clipPath id="hx1"><polygon points="163.50,289.60 198.57,309.85 198.57,350.35 163.50,370.60 128.43,350.35 128.43,309.85"/></clipPath>
<circle cx="163.5" cy="330.1" r="36.3" fill="#e4e4e4" stroke="#151515" stroke-width="0.9" clip-path="url(#hx1)"/>
<clipPath id="hc0"><circle cx="163.5" cy="330.1" r="35.6"/></clipPath>
<rect x="132.6" y="300.6" width="60.5" height="59.5" rx="4" fill="none" stroke="#151515" stroke-width="1" stroke-dasharray="2.4,1.6" clip-path="url(#hc0)"/>
<circle cx="163.5" cy="330.1" r="19.7" fill="#e4e4e4" stroke="#151515" stroke-width="0.9"/>
<circle cx="163.5" cy="330.1" r="18.2" fill="none" stroke="#151515" stroke-width="0.7"/>
<circle cx="163.5" cy="330.1" r="10" fill="none" stroke="#151515" stroke-width="0.8"/>
<circle cx="163.5" cy="330.1" r="7.6" fill="none" stroke="#151515" stroke-width="0.8"/>
<line x1="123.3" y1="330.5" x2="203.7" y2="330.5" stroke="#151515" stroke-width="1"/>
<line x1="163.5" y1="285.4" x2="163.5" y2="375.5" stroke="#151515" stroke-width="1"/>
<path d="M138.4,354.9 L223.7,269.4 L250.3,269.4" fill="none" stroke="#151515" stroke-width="0.8"/>
<path d="M138.60,354.70 L141.36,349.68 L143.62,351.94 Z" fill="#151515"/>
<path d="M188.60,304.60 L185.84,309.62 L183.58,307.36 Z" fill="#151515"/>
<text x="228.5" y="267.2" font-size="11" fill="#151515" font-style="italic">ϕ</text>
<text x="241.5" y="267.2" font-size="11.5" text-anchor="middle" fill="#151515">U</text>
<path d="M339,320.6 L437,320.6 L437,341.1 L339,341.1 Q336.3,341.1 336.3,337 L336.3,324.5 Q336.3,320.6 339,320.6 Z" fill="#e4e4e4" stroke="#151515" stroke-width="0.9"/>
<path d="M412.9,323.4 L416,320.6 M412.9,338.2 L416,341.1" fill="none" stroke="#666" stroke-width="0.7"/>
<line x1="341" y1="323.5" x2="412.9" y2="323.5" stroke="#777" stroke-width="1"/>
<line x1="341" y1="338.5" x2="412.9" y2="338.5" stroke="#777" stroke-width="1"/>
<line x1="341.5" y1="320.6" x2="341.5" y2="341.1" stroke="#777" stroke-width="1"/>
<line x1="412.5" y1="320.6" x2="412.5" y2="341.1" stroke="#555" stroke-width="1"/>
<path d="M362.91,310.6 L373.59,310.6 Q376.60,312.10 376.60,314.88 L376.60,347.03 Q376.60,349.80 373.59,351.3 L362.91,351.3 Q359.90,349.80 359.90,347.03 L359.90,314.88 Q359.90,312.10 362.91,310.6 Z" fill="#e4e4e4" stroke="#151515" stroke-width="1.0"/>
<line x1="361.7036" y1="320.5" x2="374.7964" y2="320.5" stroke="#151515" stroke-width="1"/>
<line x1="361.7036" y1="341.5" x2="374.7964" y2="341.5" stroke="#151515" stroke-width="1"/>
<path d="M360.20,316.25 Q362.91,320.10 360.20,323.95" fill="none" stroke="#151515" stroke-width="0.6"/>
<path d="M376.30,316.25 Q373.59,320.10 376.30,323.95" fill="none" stroke="#151515" stroke-width="0.6"/>
<path d="M360.20,337.25 Q362.91,341.10 360.20,344.95" fill="none" stroke="#151515" stroke-width="0.6"/>
<path d="M376.30,337.25 Q373.59,341.10 376.30,344.95" fill="none" stroke="#151515" stroke-width="0.6"/>
<path d="M441,310.6 L477.5,310.6 L477.5,350.6 L441,350.6 Q437.3,350.6 437.3,346 L437.3,315 Q437.3,310.6 441,310.6 Z" fill="#e4e4e4" stroke="#151515" stroke-width="0.9"/>
<line x1="441.5" y1="310.6" x2="441.5" y2="350.6" stroke="#555" stroke-width="1"/>
<line x1="469.5" y1="310.6" x2="469.5" y2="350.6" stroke="#151515" stroke-width="1"/>
<path d="M448.23,290.3 L461.47,290.3 Q465.20,293.28 465.20,298.81 L465.20,362.39 Q465.20,367.92 461.47,370.9 L448.23,370.9 Q444.50,367.92 444.50,362.39 L444.50,298.81 Q444.50,293.28 448.23,290.3 Z" fill="#e4e4e4" stroke="#151515" stroke-width="1.0"/>
<line x1="446.7356" y1="309.5" x2="462.9644" y2="309.5" stroke="#151515" stroke-width="1"/>
<line x1="446.7356" y1="351.5" x2="462.9644" y2="351.5" stroke="#151515" stroke-width="1"/>
<path d="M444.80,301.55 Q448.23,309.20 444.80,316.85" fill="none" stroke="#151515" stroke-width="0.6"/>
<path d="M464.90,301.55 Q461.47,309.20 464.90,316.85" fill="none" stroke="#151515" stroke-width="0.6"/>
<path d="M444.80,343.65 Q448.23,351.30 444.80,358.95" fill="none" stroke="#151515" stroke-width="0.6"/>
<path d="M464.90,343.65 Q461.47,351.30 464.90,358.95" fill="none" stroke="#151515" stroke-width="0.6"/>
<rect x="477.5" y="300.5" width="116.0" height="61.0" fill="#e4e4e4" stroke="#151515" stroke-width="1"/>
<line x1="486.5" y1="300.3" x2="486.5" y2="361.3" stroke="#151515" stroke-width="1"/>
<line x1="584.5" y1="300.3" x2="584.5" y2="361.3" stroke="#151515" stroke-width="1"/>
<line x1="486.7" y1="312.5" x2="584.7" y2="312.5" stroke="#151515" stroke-width="1"/>
<line x1="486.7" y1="348.5" x2="584.7" y2="348.5" stroke="#151515" stroke-width="1"/>
<path d="M486.7,312.2 Q468,330.3 486.7,348.5" fill="none" stroke="#151515" stroke-width="0.7"/>
<path d="M584.7,312.2 Q603,330.3 584.7,348.5" fill="none" stroke="#151515" stroke-width="0.7"/>
<line x1="486.7" y1="312.2" x2="584.7" y2="348.5" stroke="#151515" stroke-width="0.7"/>
<line x1="486.7" y1="348.5" x2="584.7" y2="312.2" stroke="#151515" stroke-width="0.7"/>
<line x1="497.8" y1="301" x2="497.8" y2="320" stroke="#151515" stroke-width="1.0" stroke-dasharray="1.5,1.2"/>
<line x1="500.2" y1="301" x2="500.2" y2="320" stroke="#151515" stroke-width="1.0" stroke-dasharray="1.5,1.2"/>
<line x1="521.3" y1="301" x2="521.3" y2="320" stroke="#151515" stroke-width="1.0" stroke-dasharray="1.5,1.2"/>
<line x1="523.7" y1="301" x2="523.7" y2="320" stroke="#151515" stroke-width="1.0" stroke-dasharray="1.5,1.2"/>
<line x1="558.0999999999999" y1="301" x2="558.0999999999999" y2="320" stroke="#151515" stroke-width="1.0" stroke-dasharray="1.5,1.2"/>
<line x1="560.5" y1="301" x2="560.5" y2="320" stroke="#151515" stroke-width="1.0" stroke-dasharray="1.5,1.2"/>
<line x1="581.3" y1="301" x2="581.3" y2="320" stroke="#151515" stroke-width="1.0" stroke-dasharray="1.5,1.2"/>
<line x1="583.7" y1="301" x2="583.7" y2="320" stroke="#151515" stroke-width="1.0" stroke-dasharray="1.5,1.2"/>
<line x1="509.5" y1="300.3" x2="509.5" y2="326.5" stroke="#151515" stroke-width="1"/>
<line x1="571.5" y1="300.3" x2="571.5" y2="326.5" stroke="#151515" stroke-width="1"/>
<rect x="593.5" y="303.5" width="4.0" height="54.0" fill="#e4e4e4" stroke="#151515" stroke-width="1"/>
<rect x="597.5" y="301.5" width="32.0" height="58.0" fill="#e4e4e4" stroke="#151515" stroke-width="1"/>
<rect x="629.5" y="302.5" width="164.0" height="56.0" fill="#e4e4e4" stroke="#151515" stroke-width="1"/>
<rect x="793.5" y="303.5" width="5.0" height="55.0" fill="#c8c8c8" stroke="#151515" stroke-width="1"/>
<path d="M798.4,302.6 L825,302.6 Q828.2,305 828.2,310 L828.2,351 Q828.2,356 825,358.6 L798.4,358.6 Z" fill="#e4e4e4" stroke="#151515" stroke-width="0.9"/>
<line x1="825.5" y1="302.6" x2="825.5" y2="358.6" stroke="#151515" stroke-width="1"/>
<line x1="807.4" y1="319.5" x2="825" y2="319.5" stroke="#151515" stroke-width="1.0" stroke-dasharray="1.5,1.2"/>
<line x1="807.4" y1="321.5" x2="825" y2="321.5" stroke="#151515" stroke-width="1.0" stroke-dasharray="1.5,1.2"/>
<line x1="807.4" y1="340.4" x2="825" y2="340.4" stroke="#151515" stroke-width="1.0" stroke-dasharray="1.5,1.2"/>
<line x1="807.4" y1="342.4" x2="825" y2="342.4" stroke="#151515" stroke-width="1.0" stroke-dasharray="1.5,1.2"/>
<line x1="331.3" y1="331.5" x2="837.9" y2="331.5" stroke="#151515" stroke-width="1"/>
<line x1="425.5" y1="311.4" x2="425.5" y2="365.8" stroke="#151515" stroke-width="1"/>
<path d="M425.70,320.80 L424.10,315.30 L427.30,315.30 Z" fill="#151515"/>
<path d="M425.70,341.10 L427.30,346.60 L424.10,346.60 Z" fill="#151515"/>
<text x="421" y="364" font-size="11" fill="#151515" font-style="italic" transform="rotate(-90 421 364)">ϕ</text>
<text x="421" y="350" font-size="11.5" text-anchor="middle" fill="#151515" transform="rotate(-90 421 350)">V</text>
<line x1="630.5" y1="301.5" x2="630.5" y2="360" stroke="#151515" stroke-width="1"/>
<path d="M630.80,301.80 L632.40,307.30 L629.20,307.30 Z" fill="#151515"/>
<path d="M630.80,359.10 L629.20,353.60 L632.40,353.60 Z" fill="#151515"/>
<g transform="rotate(-90 628 341)">
<rect x="628.5" y="330.5" width="9.0" height="10.0" fill="none" stroke="#151515" stroke-width="1"/>
<text x="639.2" y="341" font-size="12" fill="#151515">B</text>
</g>
<line x1="828.2" y1="302.5" x2="872" y2="302.5" stroke="#151515" stroke-width="1"/>
<line x1="828.2" y1="358.5" x2="872" y2="358.5" stroke="#151515" stroke-width="1"/>
<line x1="869.5" y1="302.6" x2="869.5" y2="358.6" stroke="#151515" stroke-width="1"/>
<path d="M869.50,302.60 L871.10,308.10 L867.90,308.10 Z" fill="#151515"/>
<path d="M869.50,358.60 L867.90,353.10 L871.10,353.10 Z" fill="#151515"/>
<text x="866" y="343" font-size="11" fill="#151515" font-style="italic" transform="rotate(-90 866 343)">ϕ</text>
<text x="866" y="325" font-size="11.5" text-anchor="middle" fill="#151515" transform="rotate(-90 866 325)">U1</text>
<line x1="337.5" y1="186" x2="337.5" y2="322" stroke="#151515" stroke-width="1"/>
<line x1="412.5" y1="268" x2="412.5" y2="320" stroke="#151515" stroke-width="1"/>
<line x1="437.5" y1="228" x2="437.5" y2="310" stroke="#151515" stroke-width="1"/>
<line x1="477.5" y1="207" x2="477.5" y2="247" stroke="#151515" stroke-width="1"/>
<line x1="477.5" y1="262" x2="477.5" y2="300" stroke="#151515" stroke-width="1"/>
<line x1="828.5" y1="186" x2="828.5" y2="302" stroke="#151515" stroke-width="1"/>
<line x1="798.5" y1="226" x2="798.5" y2="302" stroke="#151515" stroke-width="1"/>
<line x1="593.5" y1="226" x2="593.5" y2="300" stroke="#151515" stroke-width="1"/>
<line x1="337.4" y1="190.5" x2="828" y2="190.5" stroke="#151515" stroke-width="1"/>
<path d="M337.40,190.50 L342.90,188.90 L342.90,192.10 Z" fill="#151515"/>
<path d="M828.00,190.50 L822.50,192.10 L822.50,188.90 Z" fill="#151515"/>
<text x="560.336328125" y="187" font-size="11" fill="#151515">A</text>
<path d="M568.55,183.04 L577.79,183.04 M573.17,178.86 L573.17,187.22" stroke="#151515" stroke-width="0.82" fill="none"/>
<text x="578.673671875" y="187" font-size="11" fill="#151515">Stroke</text>
<line x1="337.4" y1="210.5" x2="477.3" y2="210.5" stroke="#151515" stroke-width="1"/>
<path d="M337.40,210.60 L342.90,209.00 L342.90,212.20 Z" fill="#151515"/>
<path d="M477.30,210.60 L471.80,212.20 L471.80,209.00 Z" fill="#151515"/>
<text x="407" y="205" font-size="12.5" text-anchor="middle" fill="#151515">28 [1.102]</text>
<line x1="477.3" y1="209.5" x2="828" y2="209.5" stroke="#151515" stroke-width="1"/>
<path d="M477.30,209.80 L482.80,208.20 L482.80,211.40 Z" fill="#151515"/>
<path d="M828.00,209.80 L822.50,211.40 L822.50,208.20 Z" fill="#151515"/>
<text x="622.63296875" y="205" font-size="11" fill="#151515">C</text>
<path d="M631.46,201.04 L640.70,201.04 M636.08,196.86 L636.08,205.22" stroke="#151515" stroke-width="0.82" fill="none"/>
<text x="641.57703125" y="205" font-size="11" fill="#151515">Stroke</text>
<line x1="337.4" y1="230.5" x2="437.7" y2="230.5" stroke="#151515" stroke-width="1"/>
<path d="M337.40,230.80 L342.90,229.20 L342.90,232.40 Z" fill="#151515"/>
<path d="M437.70,230.80 L432.20,232.40 L432.20,229.20 Z" fill="#151515"/>
<text x="387" y="224.8" font-size="12.5" text-anchor="middle" fill="#151515">20 [0.787]</text>
<line x1="437.7" y1="230.5" x2="477.3" y2="230.5" stroke="#151515" stroke-width="1"/>
<path d="M437.70,230.80 L443.20,229.20 L443.20,232.40 Z" fill="#151515"/>
<path d="M477.30,230.80 L471.80,232.40 L471.80,229.20 Z" fill="#151515"/>
<text x="456.3" y="227.3" font-size="12.5" text-anchor="middle" fill="#151515">8</text>
<text x="456.5" y="241.8" font-size="10" font-weight="bold" text-anchor="middle" textLength="33.00" lengthAdjust="spacingAndGlyphs" fill="#151515">[0.315]</text>
<line x1="477.3" y1="229.5" x2="593.8" y2="229.5" stroke="#151515" stroke-width="1"/>
<path d="M477.30,229.90 L482.80,228.30 L482.80,231.50 Z" fill="#151515"/>
<path d="M593.80,229.90 L588.30,231.50 L588.30,228.30 Z" fill="#151515"/>
<text x="538" y="226.9" font-size="11.5" text-anchor="middle" fill="#151515">G</text>
<line x1="798.5" y1="229.5" x2="828" y2="229.5" stroke="#151515" stroke-width="1"/>
<path d="M798.50,229.90 L804.00,228.30 L804.00,231.50 Z" fill="#151515"/>
<path d="M828.00,229.90 L822.50,231.50 L822.50,228.30 Z" fill="#151515"/>
<text x="813" y="226" font-size="11.5" text-anchor="middle" fill="#151515">6</text>
<text x="813" y="244" font-size="9.5" text-anchor="middle" textLength="26.00" lengthAdjust="spacingAndGlyphs" fill="#151515">[0.236]</text>
<line x1="337.4" y1="271.5" x2="412.4" y2="271.5" stroke="#151515" stroke-width="1"/>
<path d="M337.40,271.30 L342.90,269.70 L342.90,272.90 Z" fill="#151515"/>
<path d="M412.40,271.30 L406.90,272.90 L406.90,269.70 Z" fill="#151515"/>
<text x="377.3" y="264.4" font-size="12.5" text-anchor="middle" fill="#151515">15 [0.591]</text>
<line x1="360.5" y1="285.3" x2="360.5" y2="310" stroke="#151515" stroke-width="1"/>
<line x1="376.5" y1="285.3" x2="376.5" y2="310" stroke="#151515" stroke-width="1"/>
<line x1="360" y1="285.5" x2="376.6" y2="285.5" stroke="#151515" stroke-width="1"/>
<path d="M360.00,285.30 L365.50,283.70 L365.50,286.90 Z" fill="#151515"/>
<path d="M376.60,285.30 L371.10,286.90 L371.10,283.70 Z" fill="#151515"/>
<text x="367" y="282" font-size="12" text-anchor="middle" fill="#151515">J</text>
<line x1="445.5" y1="268" x2="445.5" y2="290" stroke="#151515" stroke-width="1"/>
<line x1="465.5" y1="268" x2="465.5" y2="290" stroke="#151515" stroke-width="1"/>
<line x1="437.7" y1="271.5" x2="471" y2="271.5" stroke="#151515" stroke-width="1"/>
<path d="M445.00,271.20 L439.50,272.80 L439.50,269.60 Z" fill="#151515"/>
<path d="M465.00,271.20 L470.50,269.60 L470.50,272.80 Z" fill="#151515"/>
<text x="455" y="267.5" font-size="12" text-anchor="middle" fill="#151515">4</text>
<text x="455.5" y="283" font-size="11" text-anchor="middle" textLength="32.00" lengthAdjust="spacingAndGlyphs" fill="#151515">[0.157]</text>
<line x1="477.3" y1="271.5" x2="509.2" y2="271.5" stroke="#151515" stroke-width="1"/>
<path d="M477.30,271.20 L482.80,269.60 L482.80,272.80 Z" fill="#151515"/>
<path d="M509.20,271.20 L503.70,272.80 L503.70,269.60 Z" fill="#151515"/>
<line x1="509.2" y1="271.5" x2="571.6" y2="271.5" stroke="#151515" stroke-width="1"/>
<path d="M509.20,271.20 L514.70,269.60 L514.70,272.80 Z" fill="#151515"/>
<path d="M571.60,271.20 L566.10,272.80 L566.10,269.60 Z" fill="#151515"/>
<text x="494" y="267.8" font-size="12" text-anchor="middle" fill="#151515">N<tspan font-size="8.5">1</tspan></text>
<text x="543" y="267.8" font-size="12" text-anchor="middle" fill="#151515">N<tspan font-size="8.5">2</tspan></text>
<text x="481.2" y="243.2" font-size="11.5" textLength="15.36" lengthAdjust="spacingAndGlyphs" fill="#151515">M5</text>
<path d="M498.66,234.07 L507.73,243.50 M498.66,243.50 L507.73,234.07" stroke="#151515" stroke-width="0.86" fill="none"/>
<text x="509.8295452760543" y="243.2" font-size="11.5" textLength="15.37" lengthAdjust="spacingAndGlyphs" fill="#151515">0.8</text>
<line x1="446" y1="245.5" x2="541.8" y2="245.5" stroke="#151515" stroke-width="1"/>
<path d="M541.8,245.8 L509.5,301.0" fill="none" stroke="#151515" stroke-width="0.8"/>
<path d="M509.50,301.00 L510.90,295.44 L513.66,297.06 Z" fill="#151515"/>
<text x="488.8" y="256.4" font-size="10" text-anchor="middle" textLength="84.00" lengthAdjust="spacingAndGlyphs" fill="#151515">(Dust collection port)</text>
<text x="607.4" y="242.8" font-size="11.5" textLength="15.36" lengthAdjust="spacingAndGlyphs" fill="#151515">M5</text>
<path d="M624.86,233.67 L633.93,243.10 M624.86,243.10 L633.93,233.67" stroke="#151515" stroke-width="0.86" fill="none"/>
<text x="636.0295452760543" y="242.8" font-size="11.5" textLength="15.37" lengthAdjust="spacingAndGlyphs" fill="#151515">0.8</text>
<line x1="606" y1="245.5" x2="687.8" y2="245.5" stroke="#151515" stroke-width="1"/>
<path d="M606.0,245.8 L571.6,301.0" fill="none" stroke="#151515" stroke-width="0.8"/>
<path d="M571.60,301.00 L573.15,295.49 L575.87,297.18 Z" fill="#151515"/>
<text x="607.4" y="255.3" font-size="11.5" textLength="20.02" lengthAdjust="spacingAndGlyphs" fill="#151515">(M3</text>
<path d="M629.63,246.17 L639.16,255.60 M629.63,255.60 L639.16,246.17" stroke="#151515" stroke-width="0.86" fill="none"/>
<text x="641.369792787944" y="255.3" font-size="11.5" textLength="20.03" lengthAdjust="spacingAndGlyphs" fill="#151515">0.5)</text>
<text x="665" y="250.4" font-size="7.5" textLength="22.00" lengthAdjust="spacingAndGlyphs" fill="#151515">Note1</text>
<text x="875.5" y="243.5" font-size="11.5" textLength="15.36" lengthAdjust="spacingAndGlyphs" fill="#151515">M5</text>
<path d="M892.96,234.37 L902.03,243.80 M892.96,243.80 L902.03,234.37" stroke="#151515" stroke-width="0.86" fill="none"/>
<text x="904.1295452760543" y="243.5" font-size="11.5" textLength="15.37" lengthAdjust="spacingAndGlyphs" fill="#151515">0.8</text>
<line x1="874" y1="246.5" x2="921" y2="246.5" stroke="#151515" stroke-width="1"/>
<path d="M874.0,246.0 L828.5,330.0" fill="none" stroke="#151515" stroke-width="0.8"/>
<path d="M828.50,330.00 L829.71,324.40 L832.53,325.93 Z" fill="#151515"/>
<text x="309" y="387" font-size="11.5" fill="#151515">K</text>
<path d="M302.5,389.2 L322.1,389.2 L348.3,342.0" fill="none" stroke="#151515" stroke-width="0.8"/>
<path d="M348.30,342.00 L347.03,347.59 L344.23,346.03 Z" fill="#151515"/>
<text x="226.3" y="407.3" font-size="11.5" textLength="103.40" lengthAdjust="spacingAndGlyphs" fill="#151515">Width across flats I</text>
<path d="M224.2,413.2 L331.9,413.2 L366.8,351.8" fill="none" stroke="#151515" stroke-width="0.8"/>
<path d="M366.80,351.80 L365.47,357.37 L362.69,355.79 Z" fill="#151515"/>
<text x="407" y="387" font-size="11.5" fill="#151515">L</text>
<path d="M401.6,389.2 L421.2,389.2 L444.0,350.7" fill="none" stroke="#151515" stroke-width="0.8"/>
<path d="M444.00,350.70 L442.57,356.25 L439.82,354.62 Z" fill="#151515"/>
<text x="354.8" y="414.5" font-size="11.5" textLength="70.70" lengthAdjust="spacingAndGlyphs" fill="#151515">Width across</text>
<path d="M352.6,419.3 L426.6,419.3 L453.8,373.1" fill="none" stroke="#151515" stroke-width="0.8"/>
<path d="M453.80,373.10 L452.39,378.65 L449.63,377.03 Z" fill="#151515"/>
<text x="369" y="429" font-size="11.5" textLength="40.20" lengthAdjust="spacingAndGlyphs" fill="#151515">flats AY</text>
<path d="M950.3,349 L971.6,313.3 L998.2,313.3 L998.2,349 Z" fill="#e4e4e4" stroke="#151515" stroke-width="0.9"/>
<rect x="998.5" y="316.5" width="3.0" height="31.0" fill="#cfcfcf" stroke="#151515" stroke-width="1"/>
<rect x="1001.5" y="311.5" width="30.0" height="40.0" fill="#e4e4e4" stroke="#151515" stroke-width="1"/>
<line x1="1005.5" y1="311.2" x2="1005.5" y2="351.5" stroke="#151515" stroke-width="1"/>
<path d="M1005.3,318.5 Q1000.8,331.6 1005.3,344.5" fill="none" stroke="#151515" stroke-width="0.6"/>
<path d="M1027.5,318.5 Q1032,331.6 1027.5,344.5" fill="none" stroke="#151515" stroke-width="0.6"/>
<line x1="1005.3" y1="318.5" x2="1027.5" y2="344.5" stroke="#151515" stroke-width="0.6"/>
<line x1="1005.3" y1="344.5" x2="1027.5" y2="318.5" stroke="#151515" stroke-width="0.6"/>
<line x1="1015" y1="320.5" x2="1031.4" y2="320.5" stroke="#151515" stroke-width="1"/>
<line x1="1015" y1="341.5" x2="1031.4" y2="341.5" stroke="#151515" stroke-width="1"/>
<line x1="1027.5" y1="318" x2="1027.5" y2="345" stroke="#151515" stroke-width="1"/>
<line x1="953.3" y1="331.5" x2="1037.2" y2="331.5" stroke="#151515" stroke-width="1"/>
<line x1="1001.5" y1="280" x2="1001.5" y2="311" stroke="#151515" stroke-width="1"/>
<line x1="1031.5" y1="280" x2="1031.5" y2="311" stroke="#151515" stroke-width="1"/>
<line x1="1001.2" y1="284.5" x2="1031.4" y2="284.5" stroke="#151515" stroke-width="1"/>
<path d="M1001.20,284.10 L1006.70,282.50 L1006.70,285.70 Z" fill="#151515"/>
<path d="M1031.40,284.10 L1025.90,285.70 L1025.90,282.50 Z" fill="#151515"/>
<text x="1015.4" y="281.6" font-size="12" text-anchor="middle" fill="#151515">6</text>
<text x="1015.5" y="298.3" font-size="10.5" text-anchor="middle" textLength="26.00" lengthAdjust="spacingAndGlyphs" fill="#151515">[0.236]</text>
<path d="M1072.86,311.2 L1098.14,311.2 A24.0,24.0 0 0 1 1105.9,318.49 L1105.9,344.71 A24.0,24.0 0 0 1 1098.14,351.5 L1072.86,351.5 A24.0,24.0 0 0 1 1065.4,344.71 L1065.4,318.49 A24.0,24.0 0 0 1 1072.86,311.2 Z" fill="#e4e4e4" stroke="#151515" stroke-width="0.9"/>
<line x1="1106.5" y1="320" x2="1106.5" y2="343" stroke="#151515" stroke-width="1.8"/>
<circle cx="1085.5" cy="331.6" r="12" fill="none" stroke="#151515" stroke-width="0.8"/>
<circle cx="1085.5" cy="331.6" r="8.9" fill="none" stroke="#151515" stroke-width="0.7"/>
<line x1="1056.2" y1="331.5" x2="1113" y2="331.5" stroke="#151515" stroke-width="1"/>
<line x1="1085.5" y1="307.7" x2="1085.5" y2="355.6" stroke="#151515" stroke-width="1"/>
<path d="M1041.5,267.7 L1076.6,321.0" fill="none" stroke="#151515" stroke-width="0.8"/>
<path d="M1076.60,321.00 L1072.24,317.29 L1074.91,315.53 Z" fill="#151515"/>
<line x1="1041.5" y1="267.5" x2="1139.6" y2="267.5" stroke="#151515" stroke-width="1"/>
<text x="1061.55" y="265.6" font-size="12" textLength="15.81" lengthAdjust="spacingAndGlyphs" fill="#151515">M5</text>
<path d="M1079.53,256.06 L1088.86,265.90 M1079.53,265.90 L1088.86,256.06" stroke="#151515" stroke-width="0.90" fill="none"/>
<text x="1091.0254182046651" y="265.6" font-size="12" textLength="15.82" lengthAdjust="spacingAndGlyphs" fill="#151515">0.8</text>
<text x="1053.0" y="280.2" font-size="12" textLength="20.39" lengthAdjust="spacingAndGlyphs" fill="#151515">(M3</text>
<path d="M1075.64,270.66 L1085.35,280.50 M1075.64,280.50 L1085.35,270.66" stroke="#151515" stroke-width="0.90" fill="none"/>
<text x="1087.5988630247577" y="280.2" font-size="12" textLength="20.40" lengthAdjust="spacingAndGlyphs" fill="#151515">0.5)</text>
<text x="1114" y="275.7" font-size="7.5" textLength="21.00" lengthAdjust="spacingAndGlyphs" fill="#151515">Note1</text>
<path d="M1070.4,345 L1121.9,300.2 L1151.5,300.2" fill="none" stroke="#151515" stroke-width="0.8"/>
<path d="M1070.60,344.80 L1073.36,339.78 L1075.62,342.04 Z" fill="#151515"/>
<path d="M1101.50,318.00 L1098.40,322.82 L1096.30,320.40 Z" fill="#151515"/>
<text x="1130" y="295.2" font-size="12" fill="#151515" font-style="italic">ϕ</text>
<text x="1141.5" y="295.2" font-size="12.5" text-anchor="middle" fill="#151515">9</text>
<text x="1137" y="313" font-size="11.5" text-anchor="middle" textLength="28.00" lengthAdjust="spacingAndGlyphs" fill="#151515">[0.354]</text>
<line x1="1065.5" y1="352" x2="1065.5" y2="386.6" stroke="#151515" stroke-width="1"/>
<line x1="1105.5" y1="352" x2="1105.5" y2="386.6" stroke="#151515" stroke-width="1"/>
<line x1="1065.4" y1="384.5" x2="1105.9" y2="384.5" stroke="#151515" stroke-width="1"/>
<path d="M1065.40,384.80 L1070.90,383.20 L1070.90,386.40 Z" fill="#151515"/>
<path d="M1105.90,384.80 L1100.40,386.40 L1100.40,383.20 Z" fill="#151515"/>
<g>
<rect x="1077.5" y="371.5" width="9.0" height="10.0" fill="none" stroke="#151515" stroke-width="1"/>
<text x="1088.1" y="382.2" font-size="13" fill="#151515">8</text>
</g>
<text x="1085.2" y="398.2" font-size="12.5" text-anchor="middle" textLength="36.00" lengthAdjust="spacingAndGlyphs" fill="#151515">[0.315]</text>
<path d="M119.8,644.9 L151.7,589.6 L209.4,589.6 L209.4,644.9 Z" fill="#e4e4e4" stroke="#151515" stroke-width="0.9"/>
<rect x="209.5" y="592.5" width="4.0" height="51.0" fill="#cfcfcf" stroke="#151515" stroke-width="1"/>
<rect x="214.5" y="587.5" width="45.0" height="60.0" fill="#e4e4e4" stroke="#151515" stroke-width="1"/>
<line x1="222.5" y1="587.3" x2="222.5" y2="598.8" stroke="#151515" stroke-width="1"/>
<line x1="250.5" y1="587.3" x2="250.5" y2="598.8" stroke="#151515" stroke-width="1"/>
<line x1="222.7" y1="598.5" x2="250.2" y2="598.5" stroke="#151515" stroke-width="1"/>
<line x1="222.7" y1="635.5" x2="250.2" y2="635.5" stroke="#151515" stroke-width="1"/>
<line x1="222.5" y1="635.2" x2="222.5" y2="647.2" stroke="#151515" stroke-width="1"/>
<line x1="250.5" y1="635.2" x2="250.5" y2="647.2" stroke="#151515" stroke-width="1"/>
<path d="M222.7,598.8 Q206,617.3 222.7,635.2" fill="none" stroke="#151515" stroke-width="0.7"/>
<path d="M250.2,598.8 Q267,617.3 250.2,635.2" fill="none" stroke="#151515" stroke-width="0.7"/>
<line x1="222.7" y1="598.8" x2="250.2" y2="635.2" stroke="#151515" stroke-width="0.7"/>
<line x1="222.7" y1="635.2" x2="250.2" y2="598.8" stroke="#151515" stroke-width="0.7"/>
<line x1="225.5" y1="588" x2="225.5" y2="613" stroke="#151515" stroke-width="1.0" stroke-dasharray="1.5,1.2"/>
<line x1="227.5" y1="588" x2="227.5" y2="613" stroke="#151515" stroke-width="1.0" stroke-dasharray="1.5,1.2"/>
<line x1="245" y1="588" x2="245" y2="613" stroke="#151515" stroke-width="1.0" stroke-dasharray="1.5,1.2"/>
<line x1="247" y1="588" x2="247" y2="613" stroke="#151515" stroke-width="1.0" stroke-dasharray="1.5,1.2"/>
<line x1="236.5" y1="566" x2="236.5" y2="617.4" stroke="#151515" stroke-width="1"/>
<line x1="128.6" y1="617.5" x2="269.7" y2="617.5" stroke="#151515" stroke-width="1"/>
<line x1="214.5" y1="545.6" x2="214.5" y2="587" stroke="#151515" stroke-width="1"/>
<line x1="259.5" y1="516.3" x2="259.5" y2="587" stroke="#151515" stroke-width="1"/>
<line x1="140.2" y1="519.5" x2="259.6" y2="519.5" stroke="#151515" stroke-width="1"/>
<path d="M259.60,519.50 L254.10,521.10 L254.10,517.90 Z" fill="#151515"/>
<text x="141" y="512.7" font-size="11.5" textLength="8.28" lengthAdjust="spacingAndGlyphs" fill="#151515">A</text>
<path d="M150.41,508.56 L160.55,508.56 M155.48,504.19 L155.48,512.93" stroke="#151515" stroke-width="0.86" fill="none"/>
<text x="161.68111238895278" y="512.7" font-size="11.5" textLength="47.36" lengthAdjust="spacingAndGlyphs" fill="#151515">3 [0.118]</text>
<path d="M210.17,508.56 L220.32,508.56 M215.24,504.19 L215.24,512.93" stroke="#151515" stroke-width="0.86" fill="none"/>
<text x="221.44679400636699" y="512.7" font-size="11.5" textLength="35.85" lengthAdjust="spacingAndGlyphs" fill="#151515">Stroke</text>
<line x1="214.2" y1="547.5" x2="259.6" y2="547.5" stroke="#151515" stroke-width="1"/>
<path d="M214.20,547.90 L219.70,546.30 L219.70,549.50 Z" fill="#151515"/>
<path d="M259.60,547.90 L254.10,549.50 L254.10,546.30 Z" fill="#151515"/>
<text x="236.3" y="543.8" font-size="12.5" text-anchor="middle" fill="#151515">9</text>
<text x="236.5" y="561.5" font-size="11.5" text-anchor="middle" textLength="31.00" lengthAdjust="spacingAndGlyphs" fill="#151515">[0.354]</text>
<line x1="228" y1="568.5" x2="320.3" y2="568.5" stroke="#151515" stroke-width="1"/>
<path d="M236.30,568.10 L230.80,569.70 L230.80,566.50 Z" fill="#151515"/>
<path d="M259.60,568.10 L265.10,566.50 L265.10,569.70 Z" fill="#151515"/>
<text x="260.8" y="562.4" font-size="12.5" textLength="57.70" lengthAdjust="spacingAndGlyphs" fill="#151515">4.5 [0.177]</text>
<text x="165.9" y="543.3" font-size="12" textLength="14.56" lengthAdjust="spacingAndGlyphs" fill="#151515">M5</text>
<path d="M182.45,533.76 L191.04,543.60 M182.45,543.60 L191.04,533.76" stroke="#151515" stroke-width="0.90" fill="none"/>
<text x="193.03300086389697" y="543.3" font-size="12" textLength="14.57" lengthAdjust="spacingAndGlyphs" fill="#151515">0.8</text>
<path d="M163.2,546.5 L209.4,546.5 L236.3,586.9" fill="none" stroke="#151515" stroke-width="0.8"/>
<path d="M236.30,586.90 L231.92,583.21 L234.58,581.44 Z" fill="#151515"/>
<path d="M357.3,587.4 L394.5,587.4 L406.5,599.4 L406.5,635.6 L394.5,647.6 L357.3,647.6 L345.3,635.6 L345.3,599.4 Z" fill="#e4e4e4" stroke="#151515" stroke-width="0.9"/>
<circle cx="376.6" cy="617.3" r="29.9" fill="#e4e4e4" stroke="#151515" stroke-width="0.8"/>
<path d="M357.3,587.4 L394.5,587.4 L406.5,599.4 L406.5,635.6 L394.5,647.6 L357.3,647.6 L345.3,635.6 L345.3,599.4 Z" fill="none" stroke="#151515" stroke-width="0.9"/>
<line x1="335.7" y1="617.5" x2="415.9" y2="617.5" stroke="#151515" stroke-width="1"/>
<line x1="376.5" y1="577.2" x2="376.5" y2="656.5" stroke="#151515" stroke-width="1"/>
<text x="297.2" y="543.8" font-size="11.5" fill="#151515" font-style="italic">ϕ</text>
<text x="307.5" y="543.8" font-size="12" fill="#151515">U<tspan font-size="8.5">2</tspan></text>
<path d="M294.5,547.9 L319.9,547.9 L355.4,591.5" fill="none" stroke="#151515" stroke-width="0.8"/>
<path d="M355.40,591.50 L350.69,588.25 L353.17,586.22 Z" fill="#151515"/>
<line x1="355.4" y1="591.5" x2="396.7" y2="642.9" stroke="#151515" stroke-width="0.8"/>
<path d="M396.70,642.90 L392.00,639.63 L394.48,637.62 Z" fill="#151515"/>
<line x1="345.5" y1="648" x2="345.5" y2="675.1" stroke="#151515" stroke-width="1"/>
<line x1="406.5" y1="648" x2="406.5" y2="675.1" stroke="#151515" stroke-width="1"/>
<line x1="345.3" y1="672.5" x2="406.5" y2="672.5" stroke="#151515" stroke-width="1"/>
<path d="M345.30,672.50 L350.80,670.90 L350.80,674.10 Z" fill="#151515"/>
<path d="M406.50,672.50 L401.00,674.10 L401.00,670.90 Z" fill="#151515"/>
<g>
<rect x="360.5" y="660.5" width="9.0" height="9.0" fill="none" stroke="#151515" stroke-width="1"/>
<text x="371" y="670.6" font-size="13" fill="#151515">B<tspan font-size="9">1</tspan></text>
</g>
<path d="M646.7,644.4 L678.1,589.4 L736.7,589.4 L736.7,644.4 Z" fill="#e4e4e4" stroke="#151515" stroke-width="0.9"/>
<rect x="736.5" y="591.5" width="4.0" height="51.0" fill="#cfcfcf" stroke="#151515" stroke-width="1"/>
<rect x="740.5" y="586.5" width="46.0" height="61.0" fill="#e4e4e4" stroke="#151515" stroke-width="1"/>
<line x1="750.5" y1="586.7" x2="750.5" y2="598.2" stroke="#151515" stroke-width="1"/>
<line x1="777.5" y1="586.7" x2="777.5" y2="598.2" stroke="#151515" stroke-width="1"/>
<line x1="750" y1="598.5" x2="777.5" y2="598.5" stroke="#151515" stroke-width="1"/>
<line x1="750" y1="635.5" x2="777.5" y2="635.5" stroke="#151515" stroke-width="1"/>
<line x1="750.5" y1="635.5" x2="750.5" y2="647" stroke="#151515" stroke-width="1"/>
<line x1="777.5" y1="635.5" x2="777.5" y2="647" stroke="#151515" stroke-width="1"/>
<path d="M750,598.2 Q733,616.9 750,635.5" fill="none" stroke="#151515" stroke-width="0.7"/>
<path d="M777.5,598.2 Q794.5,616.9 777.5,635.5" fill="none" stroke="#151515" stroke-width="0.7"/>
<line x1="750" y1="598.2" x2="777.5" y2="635.5" stroke="#151515" stroke-width="0.7"/>
<line x1="750" y1="635.5" x2="777.5" y2="598.2" stroke="#151515" stroke-width="0.7"/>
<line x1="751.5" y1="588" x2="751.5" y2="612.4" stroke="#151515" stroke-width="1.0" stroke-dasharray="1.5,1.2"/>
<line x1="753.5" y1="588" x2="753.5" y2="612.4" stroke="#151515" stroke-width="1.0" stroke-dasharray="1.5,1.2"/>
<line x1="773.5" y1="588" x2="773.5" y2="612.4" stroke="#151515" stroke-width="1.0" stroke-dasharray="1.5,1.2"/>
<line x1="775.5" y1="588" x2="775.5" y2="612.4" stroke="#151515" stroke-width="1.0" stroke-dasharray="1.5,1.2"/>
<line x1="763.5" y1="564.5" x2="763.5" y2="617" stroke="#151515" stroke-width="1"/>
<rect x="786.5" y="597.5" width="11.0" height="39.0" fill="#e4e4e4" stroke="#151515" stroke-width="1"/>
<path d="M812.1,596.1 L822.5,596.1 Q826.3,596.1 826.3,600 L826.3,634 Q826.3,638.2 822.5,638.2 L812.1,638.2 Z" fill="#e4e4e4" stroke="#151515" stroke-width="0.8"/>
<line x1="822.5" y1="596.1" x2="822.5" y2="638.2" stroke="#151515" stroke-width="1"/>
<path d="M799.72,582.3 L809.38,582.3 Q812.10,585.09 812.10,590.26 L812.10,644.33 Q812.10,649.51 809.38,652.3 L799.72,652.3 Q797.00,649.51 797.00,644.33 L797.00,590.26 Q797.00,585.09 799.72,582.3 Z" fill="#e4e4e4" stroke="#151515" stroke-width="1.0"/>
<line x1="798.6308" y1="600.5" x2="810.4692" y2="600.5" stroke="#151515" stroke-width="1"/>
<line x1="798.6308" y1="634.5" x2="810.4692" y2="634.5" stroke="#151515" stroke-width="1"/>
<path d="M797.30,592.83 Q799.72,600.00 797.30,607.17" fill="none" stroke="#151515" stroke-width="0.6"/>
<path d="M811.80,592.83 Q809.38,600.00 811.80,607.17" fill="none" stroke="#151515" stroke-width="0.6"/>
<path d="M797.30,627.43 Q799.72,634.60 797.30,641.77" fill="none" stroke="#151515" stroke-width="0.6"/>
<path d="M811.80,627.43 Q809.38,634.60 811.80,641.77" fill="none" stroke="#151515" stroke-width="0.6"/>
<line x1="655.1" y1="616.5" x2="832.5" y2="616.5" stroke="#151515" stroke-width="1"/>
<line x1="786.5" y1="512.2" x2="786.5" y2="586.7" stroke="#151515" stroke-width="1"/>
<line x1="740.5" y1="544.1" x2="740.5" y2="586.7" stroke="#151515" stroke-width="1"/>
<line x1="826.5" y1="544" x2="826.5" y2="596" stroke="#151515" stroke-width="1"/>
<line x1="797.5" y1="561" x2="797.5" y2="582" stroke="#151515" stroke-width="1"/>
<line x1="812.5" y1="561" x2="812.5" y2="582" stroke="#151515" stroke-width="1"/>
<line x1="666.6" y1="514.5" x2="786.9" y2="514.5" stroke="#151515" stroke-width="1"/>
<path d="M786.40,514.50 L780.90,516.10 L780.90,512.90 Z" fill="#151515"/>
<text x="668.4" y="508.6" font-size="11.5" textLength="8.27" lengthAdjust="spacingAndGlyphs" fill="#151515">A</text>
<path d="M677.79,504.46 L687.94,504.46 M682.87,500.09 L682.87,508.83" stroke="#151515" stroke-width="0.86" fill="none"/>
<text x="689.0633298331583" y="508.6" font-size="11.5" textLength="47.32" lengthAdjust="spacingAndGlyphs" fill="#151515">3 [0.113]</text>
<path d="M737.51,504.46 L747.65,504.46 M742.58,500.09 L742.58,508.83" stroke="#151515" stroke-width="0.86" fill="none"/>
<text x="748.777622214444" y="508.6" font-size="11.5" textLength="35.82" lengthAdjust="spacingAndGlyphs" fill="#151515">Stroke</text>
<line x1="740.6" y1="545.5" x2="786.4" y2="545.5" stroke="#151515" stroke-width="1"/>
<path d="M740.60,545.90 L746.10,544.30 L746.10,547.50 Z" fill="#151515"/>
<path d="M786.40,545.90 L780.90,547.50 L780.90,544.30 Z" fill="#151515"/>
<line x1="786.4" y1="545.5" x2="826.3" y2="545.5" stroke="#151515" stroke-width="1"/>
<path d="M786.40,545.90 L791.90,544.30 L791.90,547.50 Z" fill="#151515"/>
<path d="M826.30,545.90 L820.80,547.50 L820.80,544.30 Z" fill="#151515"/>
<text x="763.3" y="528.1" font-size="12.5" text-anchor="middle" fill="#151515">9</text>
<text x="761" y="539.3" font-size="12.5" text-anchor="middle" textLength="41.00" lengthAdjust="spacingAndGlyphs" fill="#151515">[0.354]</text>
<text x="805.9" y="528.1" font-size="12.5" text-anchor="middle" fill="#151515">8</text>
<text x="806" y="539.3" font-size="12.5" text-anchor="middle" textLength="35.00" lengthAdjust="spacingAndGlyphs" fill="#151515">[0.315]</text>
<line x1="763.3" y1="565.5" x2="786.4" y2="565.5" stroke="#151515" stroke-width="1"/>
<path d="M763.30,565.40 L768.80,563.80 L768.80,567.00 Z" fill="#151515"/>
<path d="M786.40,565.40 L780.90,567.00 L780.90,563.80 Z" fill="#151515"/>
<text x="774.8" y="560.1" font-size="10.5" text-anchor="middle" textLength="14.00" lengthAdjust="spacingAndGlyphs" fill="#151515">4.5</text>
<text x="775" y="576.9" font-size="8.5" text-anchor="middle" textLength="18.00" lengthAdjust="spacingAndGlyphs" fill="#151515">[0.177]</text>
<line x1="797" y1="565.5" x2="812.1" y2="565.5" stroke="#151515" stroke-width="1"/>
<path d="M797.00,565.40 L802.50,563.80 L802.50,567.00 Z" fill="#151515"/>
<path d="M812.10,565.40 L806.60,567.00 L806.60,563.80 Z" fill="#151515"/>
<text x="800.6" y="558.3" font-size="11" textLength="35.50" lengthAdjust="spacingAndGlyphs" fill="#151515">4 [0.157]</text>
<text x="692.3" y="543.2" font-size="12" textLength="14.87" lengthAdjust="spacingAndGlyphs" fill="#151515">M5</text>
<path d="M709.21,533.66 L717.98,543.50 M709.21,543.50 L717.98,533.66" stroke="#151515" stroke-width="0.90" fill="none"/>
<text x="720.0186051990889" y="543.2" font-size="12" textLength="14.88" lengthAdjust="spacingAndGlyphs" fill="#151515">0.8</text>
<path d="M690.6,546.4 L739.4,546.4 L763.3,586.7" fill="none" stroke="#151515" stroke-width="0.8"/>
<path d="M763.30,586.70 L759.12,582.79 L761.87,581.15 Z" fill="#151515"/>
<text x="750.9" y="662.5" font-size="12" fill="#151515" font-style="italic">ϕ</text>
<text x="761" y="662.5" font-size="12.5" textLength="44.37" lengthAdjust="spacingAndGlyphs" fill="#151515">10 : M10</text>
<path d="M807.54,652.55 L816.89,662.80 M807.54,662.80 L816.89,652.55" stroke="#151515" stroke-width="0.94" fill="none"/>
<text x="819.058007747648" y="662.5" font-size="12.5" textLength="6.34" lengthAdjust="spacingAndGlyphs" fill="#151515">1</text>
<text x="750.9" y="676.3" font-size="12" fill="#151515" font-style="italic">ϕ</text>
<text x="761" y="676.3" font-size="12.5" textLength="44.37" lengthAdjust="spacingAndGlyphs" fill="#151515">16 : M12</text>
<path d="M807.54,666.35 L816.89,676.60 M807.54,676.60 L816.89,666.35" stroke="#151515" stroke-width="0.94" fill="none"/>
<text x="819.058007747648" y="676.3" font-size="12.5" textLength="6.34" lengthAdjust="spacingAndGlyphs" fill="#151515">1</text>
<path d="M748.2,666.5 L832.5,666.5 L815.7,637.3" fill="none" stroke="#151515" stroke-width="0.8"/>
<path d="M815.70,637.30 L819.83,641.27 L817.06,642.87 Z" fill="#151515"/>
<path d="M881.3,586.4 L917.6,586.4 L929.6,598.4 L929.6,635.6 L917.6,647.6 L881.3,647.6 L869.3,635.6 L869.3,598.4 Z" fill="#e4e4e4" stroke="#151515" stroke-width="0.9"/>
<clipPath id="sqm"><path d="M881.3,586.4 L917.6,586.4 L929.6,598.4 L929.6,635.6 L917.6,647.6 L881.3,647.6 L869.3,635.6 L869.3,598.4 Z"/></clipPath>
<polygon points="899.10,582.10 929.24,599.50 929.24,634.30 899.10,651.70 868.96,634.30 868.96,599.50" fill="none" stroke="#151515" stroke-width="0.8"/>
<circle cx="899.1" cy="616.9" r="30" fill="#e4e4e4" stroke="#151515" stroke-width="0.7" clip-path="url(#sqm)"/>
<circle cx="899.1" cy="616.9" r="19.6" fill="none" stroke="#151515" stroke-width="0.8"/>
<circle cx="899.1" cy="616.9" r="16.1" fill="none" stroke="#151515" stroke-width="0.8"/>
<line x1="869.5" y1="598" x2="869.5" y2="636" stroke="#151515" stroke-width="1"/>
<line x1="929.5" y1="598" x2="929.5" y2="636" stroke="#151515" stroke-width="1"/>
<line x1="858.8" y1="616.5" x2="939" y2="616.5" stroke="#555" stroke-width="1"/>
<line x1="899.5" y1="577" x2="899.5" y2="656.6" stroke="#151515" stroke-width="1"/>
<text x="848" y="545.4" font-size="12" fill="#151515" font-style="italic">ϕ</text>
<text x="858.5" y="545.4" font-size="12.5" fill="#151515">U<tspan font-size="8.5">2</tspan></text>
<path d="M843.5,548.2 L874.6,548.2" fill="none" stroke="#151515" stroke-width="0.8"/>
<line x1="843.5" y1="548.2" x2="920.3" y2="644.2" stroke="#151515" stroke-width="0.8"/>
<path d="M878.00,591.00 L873.31,587.71 L875.81,585.71 Z" fill="#151515"/>
<path d="M920.30,644.20 L915.61,640.91 L918.11,638.91 Z" fill="#151515"/>
<line x1="869.5" y1="648" x2="869.5" y2="675.2" stroke="#151515" stroke-width="1"/>
<line x1="929.5" y1="648" x2="929.5" y2="675.2" stroke="#151515" stroke-width="1"/>
<line x1="869.3" y1="673.5" x2="929.6" y2="673.5" stroke="#151515" stroke-width="1"/>
<path d="M869.30,673.50 L874.80,671.90 L874.80,675.10 Z" fill="#151515"/>
<path d="M929.60,673.50 L924.10,675.10 L924.10,671.90 Z" fill="#151515"/>
<g>
<rect x="884.5" y="661.5" width="9.0" height="9.0" fill="none" stroke="#151515" stroke-width="1"/>
<text x="895.5" y="671.5" font-size="13" fill="#151515">B<tspan font-size="9">1</tspan></text>
</g>
<path d="M165.4,1082.9 L201.6,1082.9 L214,1095.3000000000002 L214,1132.1999999999998 L201.6,1144.6 L165.4,1144.6 L153,1132.1999999999998 L153,1095.3000000000002 Z" fill="#e4e4e4" stroke="#151515" stroke-width="0.9"/>
<circle cx="183.6" cy="1113.8" r="29.8" fill="none" stroke="#151515" stroke-width="0.7"/>
<circle cx="183.6" cy="1113.8" r="20.2" fill="#e4e4e4" stroke="#151515" stroke-width="0.9"/>
<circle cx="183.6" cy="1113.8" r="18.5" fill="none" stroke="#151515" stroke-width="0.7"/>
<circle cx="183.6" cy="1113.8" r="10.3" fill="none" stroke="#151515" stroke-width="0.8"/>
<circle cx="183.6" cy="1113.8" r="7.5" fill="none" stroke="#151515" stroke-width="0.8"/>
<line x1="143.4" y1="1113.5" x2="223.6" y2="1113.5" stroke="#555" stroke-width="1"/>
<line x1="183.5" y1="1074" x2="183.5" y2="1154.2" stroke="#151515" stroke-width="1"/>
<path d="M159.2,1137.7 L216.1,1080.4 L242.8,1080.4" fill="none" stroke="#151515" stroke-width="0.8"/>
<path d="M159.40,1137.50 L162.16,1132.48 L164.42,1134.74 Z" fill="#151515"/>
<path d="M205.00,1091.50 L202.24,1096.52 L199.98,1094.26 Z" fill="#151515"/>
<text x="218.8" y="1076" font-size="11.5" fill="#151515" font-style="italic">ϕ</text>
<text x="229" y="1076" font-size="12" fill="#151515">U</text>
<line x1="153.5" y1="1145" x2="153.5" y2="1190.5" stroke="#151515" stroke-width="1"/>
<line x1="214.5" y1="1145" x2="214.5" y2="1190.5" stroke="#151515" stroke-width="1"/>
<line x1="153" y1="1189.5" x2="214" y2="1189.5" stroke="#151515" stroke-width="1"/>
<path d="M153.00,1189.20 L158.50,1187.60 L158.50,1190.80 Z" fill="#151515"/>
<path d="M214.00,1189.20 L208.50,1190.80 L208.50,1187.60 Z" fill="#151515"/>
<g>
<rect x="173.5" y="1175.5" width="9.0" height="10.0" fill="none" stroke="#151515" stroke-width="1"/>
<text x="184.5" y="1186" font-size="13" fill="#151515">B</text>
</g>
<path d="M361.5,1104.3 L458.6,1104.3 L458.6,1124.2 L361.5,1124.2 Q358.9,1124.2 358.9,1120 L358.9,1108 Q358.9,1104.3 361.5,1104.3 Z" fill="#e4e4e4" stroke="#151515" stroke-width="0.9"/>
<path d="M434.4,1106.8 L437.5,1104.3 M434.4,1121.5 L437.5,1124.2" fill="none" stroke="#666" stroke-width="0.7"/>
<line x1="363.5" y1="1106.5" x2="434.4" y2="1106.5" stroke="#777" stroke-width="1"/>
<line x1="363.5" y1="1121.5" x2="434.4" y2="1121.5" stroke="#777" stroke-width="1"/>
<line x1="363.5" y1="1104.3" x2="363.5" y2="1124.2" stroke="#777" stroke-width="1"/>
<line x1="434.5" y1="1104.3" x2="434.5" y2="1124.2" stroke="#555" stroke-width="1"/>
<path d="M384.16,1093.7 L395.04,1093.7 Q398.10,1095.45 398.10,1098.69 L398.10,1129.41 Q398.10,1132.65 395.04,1134.4 L384.16,1134.4 Q381.10,1132.65 381.10,1129.41 L381.10,1098.69 Q381.10,1095.45 384.16,1093.7 Z" fill="#e4e4e4" stroke="#151515" stroke-width="1.0"/>
<line x1="382.93600000000004" y1="1104.5" x2="396.264" y2="1104.5" stroke="#151515" stroke-width="1"/>
<line x1="382.93600000000004" y1="1123.5" x2="396.264" y2="1123.5" stroke="#151515" stroke-width="1"/>
<path d="M381.40,1100.30 Q384.16,1104.80 381.40,1109.30" fill="none" stroke="#151515" stroke-width="0.6"/>
<path d="M397.80,1100.30 Q395.04,1104.80 397.80,1109.30" fill="none" stroke="#151515" stroke-width="0.6"/>
<path d="M381.40,1119.00 Q384.16,1123.50 381.40,1128.00" fill="none" stroke="#151515" stroke-width="0.6"/>
<path d="M397.80,1119.00 Q395.04,1123.50 397.80,1128.00" fill="none" stroke="#151515" stroke-width="0.6"/>
<path d="M462,1094.4 L492,1094.4 L492,1134.4 L462,1134.4 L458.6,1131 L458.6,1097.8 Z" fill="#e4e4e4" stroke="#151515" stroke-width="0.9"/>
<line x1="462" y1="1096.5" x2="490" y2="1096.5" stroke="#151515" stroke-width="1"/>
<line x1="462" y1="1132.5" x2="490" y2="1132.5" stroke="#151515" stroke-width="1"/>
<line x1="462.5" y1="1094.4" x2="462.5" y2="1134.4" stroke="#151515" stroke-width="1"/>
<rect x="492.5" y="1094.5" width="6.0" height="40.0" fill="#e4e4e4" stroke="#151515" stroke-width="1"/>
<rect x="498.5" y="1084.5" width="116.0" height="60.0" fill="#e4e4e4" stroke="#151515" stroke-width="1"/>
<line x1="507.5" y1="1084.3" x2="507.5" y2="1144.5" stroke="#151515" stroke-width="1"/>
<line x1="605.5" y1="1084.3" x2="605.5" y2="1144.5" stroke="#151515" stroke-width="1"/>
<line x1="507.4" y1="1096.5" x2="605.7" y2="1096.5" stroke="#151515" stroke-width="1"/>
<line x1="507.4" y1="1132.5" x2="605.7" y2="1132.5" stroke="#151515" stroke-width="1"/>
<path d="M507.4,1096.9 Q489.5,1114.6 507.4,1132.4" fill="none" stroke="#151515" stroke-width="0.7"/>
<path d="M605.7,1096.9 Q623.5,1114.6 605.7,1132.4" fill="none" stroke="#151515" stroke-width="0.7"/>
<line x1="507.4" y1="1096.9" x2="605.7" y2="1132.4" stroke="#151515" stroke-width="0.7"/>
<line x1="507.4" y1="1132.4" x2="605.7" y2="1096.9" stroke="#151515" stroke-width="0.7"/>
<line x1="519.0999999999999" y1="1085" x2="519.0999999999999" y2="1104.1" stroke="#151515" stroke-width="1.0" stroke-dasharray="1.5,1.2"/>
<line x1="521.5" y1="1085" x2="521.5" y2="1104.1" stroke="#151515" stroke-width="1.0" stroke-dasharray="1.5,1.2"/>
<line x1="542.0" y1="1085" x2="542.0" y2="1104.1" stroke="#151515" stroke-width="1.0" stroke-dasharray="1.5,1.2"/>
<line x1="544.4000000000001" y1="1085" x2="544.4000000000001" y2="1104.1" stroke="#151515" stroke-width="1.0" stroke-dasharray="1.5,1.2"/>
<line x1="579.5" y1="1085" x2="579.5" y2="1104.1" stroke="#151515" stroke-width="1.0" stroke-dasharray="1.5,1.2"/>
<line x1="581.9000000000001" y1="1085" x2="581.9000000000001" y2="1104.1" stroke="#151515" stroke-width="1.0" stroke-dasharray="1.5,1.2"/>
<line x1="602.5" y1="1085" x2="602.5" y2="1104.1" stroke="#151515" stroke-width="1.0" stroke-dasharray="1.5,1.2"/>
<line x1="604.9000000000001" y1="1085" x2="604.9000000000001" y2="1104.1" stroke="#151515" stroke-width="1.0" stroke-dasharray="1.5,1.2"/>
<line x1="530.5" y1="1052" x2="530.5" y2="1107.7" stroke="#151515" stroke-width="1"/>
<line x1="592.5" y1="1052" x2="592.5" y2="1107.7" stroke="#151515" stroke-width="1"/>
<rect x="614.5" y="1087.5" width="6.0" height="55.0" fill="#e4e4e4" stroke="#151515" stroke-width="1"/>
<rect x="620.5" y="1086.5" width="166.0" height="55.0" fill="#e4e4e4" stroke="#151515" stroke-width="1"/>
<rect x="786.5" y="1087.5" width="4.0" height="53.0" fill="#c8c8c8" stroke="#151515" stroke-width="1"/>
<rect x="790.5" y="1084.5" width="111.0" height="60.0" fill="#b3b3b3" stroke="#151515" stroke-width="1"/>
<line x1="799.5" y1="1084.2" x2="799.5" y2="1144.4" stroke="#151515" stroke-width="1"/>
<line x1="892.5" y1="1084.2" x2="892.5" y2="1144.4" stroke="#151515" stroke-width="1"/>
<line x1="799.6" y1="1095.5" x2="892.5" y2="1095.5" stroke="#151515" stroke-width="1"/>
<line x1="799.6" y1="1132.5" x2="892.5" y2="1132.5" stroke="#151515" stroke-width="1"/>
<path d="M799.6,1095.8 Q781.5,1114.6 799.6,1132.2" fill="none" stroke="#151515" stroke-width="0.7"/>
<path d="M892.5,1095.8 Q910.6,1114.6 892.5,1132.2" fill="none" stroke="#151515" stroke-width="0.7"/>
<line x1="799.6" y1="1095.8" x2="892.5" y2="1132.2" stroke="#151515" stroke-width="0.8"/>
<line x1="799.6" y1="1132.2" x2="892.5" y2="1095.8" stroke="#151515" stroke-width="0.8"/>
<circle cx="876.5" cy="1114.4" r="7.6" fill="#fff" stroke="#151515" stroke-width="0.7"/>
<line x1="835.9" y1="1085" x2="835.9" y2="1144" stroke="#151515" stroke-width="1.0" stroke-dasharray="2,1.5"/>
<line x1="800.5999999999999" y1="1085" x2="800.5999999999999" y2="1104.2" stroke="#151515" stroke-width="1.0" stroke-dasharray="1.5,1.2"/>
<line x1="803.0" y1="1085" x2="803.0" y2="1104.2" stroke="#151515" stroke-width="1.0" stroke-dasharray="1.5,1.2"/>
<line x1="823.8" y1="1085" x2="823.8" y2="1104.2" stroke="#151515" stroke-width="1.0" stroke-dasharray="1.5,1.2"/>
<line x1="826.2" y1="1085" x2="826.2" y2="1104.2" stroke="#151515" stroke-width="1.0" stroke-dasharray="1.5,1.2"/>
<line x1="813.5" y1="1065" x2="813.5" y2="1109.3" stroke="#151515" stroke-width="1"/>
<line x1="876.5" y1="969" x2="876.5" y2="1125.2" stroke="#151515" stroke-width="1"/>
<line x1="835.5" y1="988" x2="835.5" y2="1084.2" stroke="#151515" stroke-width="1"/>
<line x1="901.5" y1="948" x2="901.5" y2="1084.2" stroke="#151515" stroke-width="1"/>
<line x1="349" y1="1114.5" x2="910.6" y2="1114.5" stroke="#151515" stroke-width="1"/>
<line x1="445.5" y1="1094.4" x2="445.5" y2="1148.9" stroke="#151515" stroke-width="1"/>
<path d="M445.70,1104.80 L444.10,1099.30 L447.30,1099.30 Z" fill="#151515"/>
<path d="M445.70,1123.50 L447.30,1129.00 L444.10,1129.00 Z" fill="#151515"/>
<text x="441" y="1145" font-size="11" fill="#151515" font-style="italic" transform="rotate(-90 441 1145)">ϕ</text>
<text x="441" y="1131" font-size="11.5" text-anchor="middle" fill="#151515" transform="rotate(-90 441 1131)">V</text>
<line x1="358.5" y1="950.4" x2="358.5" y2="1104" stroke="#151515" stroke-width="1"/>
<line x1="433.5" y1="988" x2="433.5" y2="1104" stroke="#151515" stroke-width="1"/>
<line x1="458.5" y1="1010" x2="458.5" y2="1094.4" stroke="#151515" stroke-width="1"/>
<line x1="498.5" y1="1010" x2="498.5" y2="1031" stroke="#151515" stroke-width="1"/>
<line x1="498.5" y1="1044" x2="498.5" y2="1084.3" stroke="#151515" stroke-width="1"/>
<line x1="614.5" y1="1010" x2="614.5" y2="1084.3" stroke="#151515" stroke-width="1"/>
<line x1="358.6" y1="953.5" x2="901.6" y2="953.5" stroke="#151515" stroke-width="1"/>
<path d="M358.60,953.10 L364.10,951.50 L364.10,954.70 Z" fill="#151515"/>
<path d="M901.60,953.10 L896.10,954.70 L896.10,951.50 Z" fill="#151515"/>
<text x="606.0970703124999" y="949.4" font-size="11.5" fill="#151515">A</text>
<path d="M614.69,945.26 L624.35,945.26 M619.52,940.89 L619.52,949.63" stroke="#151515" stroke-width="0.86" fill="none"/>
<text x="625.2679296874999" y="949.4" font-size="11.5" fill="#151515">Stroke</text>
<line x1="358.6" y1="971.5" x2="876.6" y2="971.5" stroke="#151515" stroke-width="1"/>
<path d="M358.60,971.60 L364.10,970.00 L364.10,973.20 Z" fill="#151515"/>
<path d="M876.60,971.60 L871.10,973.20 L871.10,970.00 Z" fill="#151515"/>
<text x="601.6444921875" y="968.3" font-size="11.5" fill="#151515">CA</text>
<path d="M618.54,964.16 L628.20,964.16 M623.37,959.79 L623.37,968.53" stroke="#151515" stroke-width="0.86" fill="none"/>
<text x="629.1205078124999" y="968.3" font-size="11.5" fill="#151515">Stroke</text>
<line x1="358.6" y1="992.5" x2="433.2" y2="992.5" stroke="#151515" stroke-width="1"/>
<path d="M358.60,992.50 L364.10,990.90 L364.10,994.10 Z" fill="#151515"/>
<path d="M433.20,992.50 L427.70,994.10 L427.70,990.90 Z" fill="#151515"/>
<text x="396.8" y="986.8" font-size="12.5" text-anchor="middle" fill="#151515">15 [0.591]</text>
<line x1="433.2" y1="992.5" x2="835.9" y2="992.5" stroke="#151515" stroke-width="1"/>
<path d="M433.20,992.50 L438.70,990.90 L438.70,994.10 Z" fill="#151515"/>
<path d="M835.90,992.50 L830.40,994.10 L830.40,990.90 Z" fill="#151515"/>
<text x="601.6444921875" y="989.3" font-size="11.5" fill="#151515">CB</text>
<path d="M618.54,985.16 L628.20,985.16 M623.37,980.79 L623.37,989.53" stroke="#151515" stroke-width="0.86" fill="none"/>
<text x="629.1205078124999" y="989.3" font-size="11.5" fill="#151515">Stroke</text>
<line x1="835.9" y1="992.5" x2="901.6" y2="992.5" stroke="#151515" stroke-width="1"/>
<path d="M835.90,992.50 L841.40,990.90 L841.40,994.10 Z" fill="#151515"/>
<path d="M901.60,992.50 L896.10,994.10 L896.10,990.90 Z" fill="#151515"/>
<text x="868.1" y="989.3" font-size="12" text-anchor="middle" fill="#151515">R</text>
<line x1="358.6" y1="1013.5" x2="458.5" y2="1013.5" stroke="#151515" stroke-width="1"/>
<path d="M358.60,1013.40 L364.10,1011.80 L364.10,1015.00 Z" fill="#151515"/>
<path d="M458.50,1013.40 L453.00,1015.00 L453.00,1011.80 Z" fill="#151515"/>
<text x="394.1" y="1009" font-size="12.5" text-anchor="middle" fill="#151515">20 [0.787]</text>
<line x1="458.5" y1="1013.5" x2="498.4" y2="1013.5" stroke="#151515" stroke-width="1"/>
<path d="M458.50,1013.40 L464.00,1011.80 L464.00,1015.00 Z" fill="#151515"/>
<path d="M498.40,1013.40 L492.90,1015.00 L492.90,1011.80 Z" fill="#151515"/>
<text x="476.6" y="1010.2" font-size="12.5" text-anchor="middle" fill="#151515">8</text>
<text x="476.5" y="1025.8" font-size="10.5" text-anchor="middle" textLength="30.00" lengthAdjust="spacingAndGlyphs" fill="#151515">[0.315]</text>
<line x1="498.4" y1="1013.5" x2="614.7" y2="1013.5" stroke="#151515" stroke-width="1"/>
<path d="M498.40,1013.50 L503.90,1011.90 L503.90,1015.10 Z" fill="#151515"/>
<path d="M614.70,1013.50 L609.20,1015.10 L609.20,1011.90 Z" fill="#151515"/>
<text x="554.4" y="1010.8" font-size="12" text-anchor="middle" fill="#151515">G</text>
<line x1="498.4" y1="1055.5" x2="530.7" y2="1055.5" stroke="#151515" stroke-width="1"/>
<path d="M498.40,1055.00 L503.90,1053.40 L503.90,1056.60 Z" fill="#151515"/>
<path d="M530.70,1055.00 L525.20,1056.60 L525.20,1053.40 Z" fill="#151515"/>
<line x1="530.7" y1="1055.5" x2="592.8" y2="1055.5" stroke="#151515" stroke-width="1"/>
<path d="M530.70,1055.00 L536.20,1053.40 L536.20,1056.60 Z" fill="#151515"/>
<path d="M592.80,1055.00 L587.30,1056.60 L587.30,1053.40 Z" fill="#151515"/>
<text x="514.8" y="1052.4" font-size="12" text-anchor="middle" fill="#151515">N<tspan font-size="8.5">1</tspan></text>
<text x="565.3" y="1052.4" font-size="12" text-anchor="middle" fill="#151515">N<tspan font-size="8.5">2</tspan></text>
<text x="501.5" y="1025.8" font-size="11.5" textLength="15.19" lengthAdjust="spacingAndGlyphs" fill="#151515">M5</text>
<path d="M518.76,1016.67 L527.73,1026.10 M518.76,1026.10 L527.73,1016.67" stroke="#151515" stroke-width="0.86" fill="none"/>
<text x="529.804209534281" y="1025.8" font-size="11.5" textLength="15.20" lengthAdjust="spacingAndGlyphs" fill="#151515">0.8</text>
<line x1="486.4" y1="1029.5" x2="562.6" y2="1029.5" stroke="#151515" stroke-width="1"/>
<path d="M562.6,1029.4 L530.7,1084.3" fill="none" stroke="#151515" stroke-width="0.8"/>
<path d="M530.70,1084.30 L532.08,1078.74 L534.85,1080.35 Z" fill="#151515"/>
<text x="509.4" y="1040" font-size="10" text-anchor="middle" textLength="84.00" lengthAdjust="spacingAndGlyphs" fill="#151515">(Dust collection port)</text>
<text x="628.4" y="1025.6" font-size="11.5" textLength="15.36" lengthAdjust="spacingAndGlyphs" fill="#151515">M5</text>
<path d="M645.86,1016.47 L654.93,1025.90 M645.86,1025.90 L654.93,1016.47" stroke="#151515" stroke-width="0.86" fill="none"/>
<text x="657.0295452760543" y="1025.6" font-size="11.5" textLength="15.37" lengthAdjust="spacingAndGlyphs" fill="#151515">0.8</text>
<line x1="626" y1="1028.5" x2="673.4" y2="1028.5" stroke="#151515" stroke-width="1"/>
<path d="M626.0,1028.9 L592.8,1084.3" fill="none" stroke="#151515" stroke-width="0.8"/>
<path d="M592.80,1084.30 L594.25,1078.76 L597.00,1080.40 Z" fill="#151515"/>
<line x1="381.5" y1="1067" x2="381.5" y2="1093.7" stroke="#151515" stroke-width="1"/>
<line x1="398.5" y1="1067" x2="398.5" y2="1093.7" stroke="#151515" stroke-width="1"/>
<line x1="381.1" y1="1067.5" x2="398.1" y2="1067.5" stroke="#151515" stroke-width="1"/>
<path d="M381.10,1067.80 L386.60,1066.20 L386.60,1069.40 Z" fill="#151515"/>
<path d="M398.10,1067.80 L392.60,1069.40 L392.60,1066.20 Z" fill="#151515"/>
<text x="388.4" y="1064.2" font-size="12" text-anchor="middle" fill="#151515">J</text>
<text x="741.1" y="1050.2" font-size="11.5" textLength="16.20" lengthAdjust="spacingAndGlyphs" fill="#151515">M5</text>
<path d="M759.51,1041.07 L769.08,1050.50 M759.51,1050.50 L769.08,1041.07" stroke="#151515" stroke-width="0.86" fill="none"/>
<text x="771.2911568365664" y="1050.2" font-size="11.5" textLength="16.21" lengthAdjust="spacingAndGlyphs" fill="#151515">0.8</text>
<line x1="739.1" y1="1053.5" x2="789.5" y2="1053.5" stroke="#151515" stroke-width="1"/>
<path d="M789.5,1053.0 L811.7,1083.2" fill="none" stroke="#151515" stroke-width="0.8"/>
<path d="M811.70,1083.20 L807.15,1079.72 L809.73,1077.82 Z" fill="#151515"/>
<line x1="813.4" y1="1067.5" x2="835.9" y2="1067.5" stroke="#151515" stroke-width="1"/>
<path d="M813.40,1067.90 L818.90,1066.30 L818.90,1069.50 Z" fill="#151515"/>
<path d="M835.90,1067.90 L830.40,1069.50 L830.40,1066.30 Z" fill="#151515"/>
<text x="824.3" y="1049" font-size="11" text-anchor="middle" textLength="15.00" lengthAdjust="spacingAndGlyphs" fill="#151515">4.5</text>
<text x="824.5" y="1062.1" font-size="8.5" text-anchor="middle" textLength="18.00" lengthAdjust="spacingAndGlyphs" fill="#151515">[0.177]</text>
<line x1="835.9" y1="1067.5" x2="876.5" y2="1067.5" stroke="#151515" stroke-width="1"/>
<path d="M835.90,1067.90 L841.40,1066.30 L841.40,1069.50 Z" fill="#151515"/>
<path d="M876.50,1067.90 L871.00,1069.50 L871.00,1066.30 Z" fill="#151515"/>
<text x="854" y="1065" font-size="12" text-anchor="middle" fill="#151515">S</text>
<text x="925.9" y="1062.8" font-size="12" fill="#151515" font-style="italic">ϕ</text>
<text x="936" y="1062.8" font-size="12.5" fill="#151515">P</text>
<line x1="923" y1="1067.5" x2="945.5" y2="1067.5" stroke="#151515" stroke-width="1"/>
<path d="M923.0,1067.2 L881.6,1107.8" fill="none" stroke="#151515" stroke-width="0.8"/>
<path d="M881.60,1107.80 L884.41,1102.81 L886.65,1105.09 Z" fill="#151515"/>
<line x1="790.5" y1="1145" x2="790.5" y2="1198.5" stroke="#151515" stroke-width="1"/>
<line x1="901.5" y1="1145" x2="901.5" y2="1198.5" stroke="#151515" stroke-width="1"/>
<line x1="790.5" y1="1196.5" x2="901.6" y2="1196.5" stroke="#151515" stroke-width="1"/>
<path d="M790.50,1196.80 L796.00,1195.20 L796.00,1198.40 Z" fill="#151515"/>
<path d="M901.60,1196.80 L896.10,1198.40 L896.10,1195.20 Z" fill="#151515"/>
<text x="843.1" y="1193.5" font-size="12.5" text-anchor="middle" fill="#151515">G<tspan font-size="8.5">1</tspan></text>
<text x="329.5" y="1168.7" font-size="11.5" fill="#151515">K</text>
<path d="M321.3,1172.6 L347.6,1172.6 L369.6,1124.9" fill="none" stroke="#151515" stroke-width="0.8"/>
<path d="M369.60,1124.90 L368.75,1130.56 L365.84,1129.22 Z" fill="#151515"/>
<text x="246.2" y="1192.9" font-size="11.5" textLength="105.30" lengthAdjust="spacingAndGlyphs" fill="#151515">Width across flats I</text>
<path d="M246.0,1197.3 L354.2,1197.3 L387.1,1135.3" fill="none" stroke="#151515" stroke-width="0.8"/>
<path d="M387.10,1135.30 L385.94,1140.91 L383.11,1139.41 Z" fill="#151515"/>
<text x="435.6" y="1169.4" font-size="11.5" fill="#151515">L</text>
<path d="M427.1,1172.6 L445.3,1172.6 L468.2,1134.8" fill="none" stroke="#151515" stroke-width="0.8"/>
<path d="M468.20,1134.80 L466.72,1140.33 L463.98,1138.68 Z" fill="#151515"/>
<path d="M1007.5,1084.2 L1044.3,1084.2 L1056.5,1096.4 L1056.5,1132.8 L1044.3,1145 L1007.5,1145 L995.3,1132.8 L995.3,1096.4 Z" fill="#b3b3b3" stroke="#151515" stroke-width="0.9"/>
<clipPath id="cvr"><path d="M1007.5,1084.2 L1044.3,1084.2 L1056.5,1096.4 L1056.5,1132.8 L1044.3,1145 L1007.5,1145 L995.3,1132.8 L995.3,1096.4 Z"/></clipPath>
<circle cx="1025.5" cy="1114.2" r="29.8" fill="#b3b3b3" stroke="#151515" stroke-width="0.7" clip-path="url(#cvr)"/>
<rect x="1017.5" y="1084.5" width="16.0" height="61.0" fill="#b9b9b9" stroke="#151515" stroke-width="1"/>
<path d="M1007.5,1084.2 L1044.3,1084.2 L1056.5,1096.4 L1056.5,1132.8 L1044.3,1145 L1007.5,1145 L995.3,1132.8 L995.3,1096.4 Z" fill="none" stroke="#151515" stroke-width="0.9"/>
<line x1="997" y1="1109.5" x2="1017" y2="1109.5" stroke="#fff" stroke-width="0.9" stroke-dasharray="2.5,1.5"/>
<line x1="1034" y1="1109.5" x2="1054.5" y2="1109.5" stroke="#fff" stroke-width="0.9" stroke-dasharray="2.5,1.5"/>
<line x1="997" y1="1119.2" x2="1017" y2="1119.2" stroke="#fff" stroke-width="0.9" stroke-dasharray="2.5,1.5"/>
<line x1="1034" y1="1119.2" x2="1054.5" y2="1119.2" stroke="#fff" stroke-width="0.9" stroke-dasharray="2.5,1.5"/>
<line x1="1056.5" y1="1096.3" x2="1056.5" y2="1132.1" stroke="#151515" stroke-width="1.8"/>
<line x1="985.3" y1="1114.5" x2="1065.6" y2="1114.5" stroke="#151515" stroke-width="1"/>
<line x1="1025.5" y1="1074" x2="1025.5" y2="1154.4" stroke="#151515" stroke-width="1"/>
<line x1="1017.5" y1="1145" x2="1017.5" y2="1175.2" stroke="#151515" stroke-width="1"/>
<line x1="1033.5" y1="1145" x2="1033.5" y2="1175.2" stroke="#151515" stroke-width="1"/>
<line x1="1009" y1="1172.5" x2="1053" y2="1172.5" stroke="#151515" stroke-width="1"/>
<path d="M1017.50,1172.50 L1012.00,1174.10 L1012.00,1170.90 Z" fill="#151515"/>
<path d="M1033.50,1172.50 L1039.00,1170.90 L1039.00,1174.10 Z" fill="#151515"/>
<text x="1045.3" y="1168.2" font-size="12.5" text-anchor="middle" fill="#151515">Q</text>
<path d="M1002.3,1137.9 L1059.8,1080.3 L1086,1080.3" fill="none" stroke="#151515" stroke-width="0.8"/>
<path d="M1002.50,1137.70 L1005.26,1132.68 L1007.52,1134.94 Z" fill="#151515"/>
<path d="M1047.50,1092.50 L1044.74,1097.52 L1042.48,1095.26 Z" fill="#151515"/>
<text x="1060.3" y="1077.4" font-size="12" fill="#151515" font-style="italic">ϕ</text>
<text x="1070" y="1077.4" font-size="12.5" fill="#151515">U</text>
<line x1="995.5" y1="1145" x2="995.5" y2="1197.4" stroke="#151515" stroke-width="1"/>
<line x1="1056.5" y1="1145" x2="1056.5" y2="1197.4" stroke="#151515" stroke-width="1"/>
<line x1="995.3" y1="1196.5" x2="1056.5" y2="1196.5" stroke="#151515" stroke-width="1"/>
<path d="M995.30,1196.50 L1000.80,1194.90 L1000.80,1198.10 Z" fill="#151515"/>
<path d="M1056.50,1196.50 L1051.00,1198.10 L1051.00,1194.90 Z" fill="#151515"/>
<g>
<rect x="1018.5" y="1182.5" width="9.0" height="10.0" fill="none" stroke="#151515" stroke-width="1"/>
<text x="1029.7" y="1193.5" font-size="13" fill="#151515">B</text>
</g>
</svg>
</body></html>
